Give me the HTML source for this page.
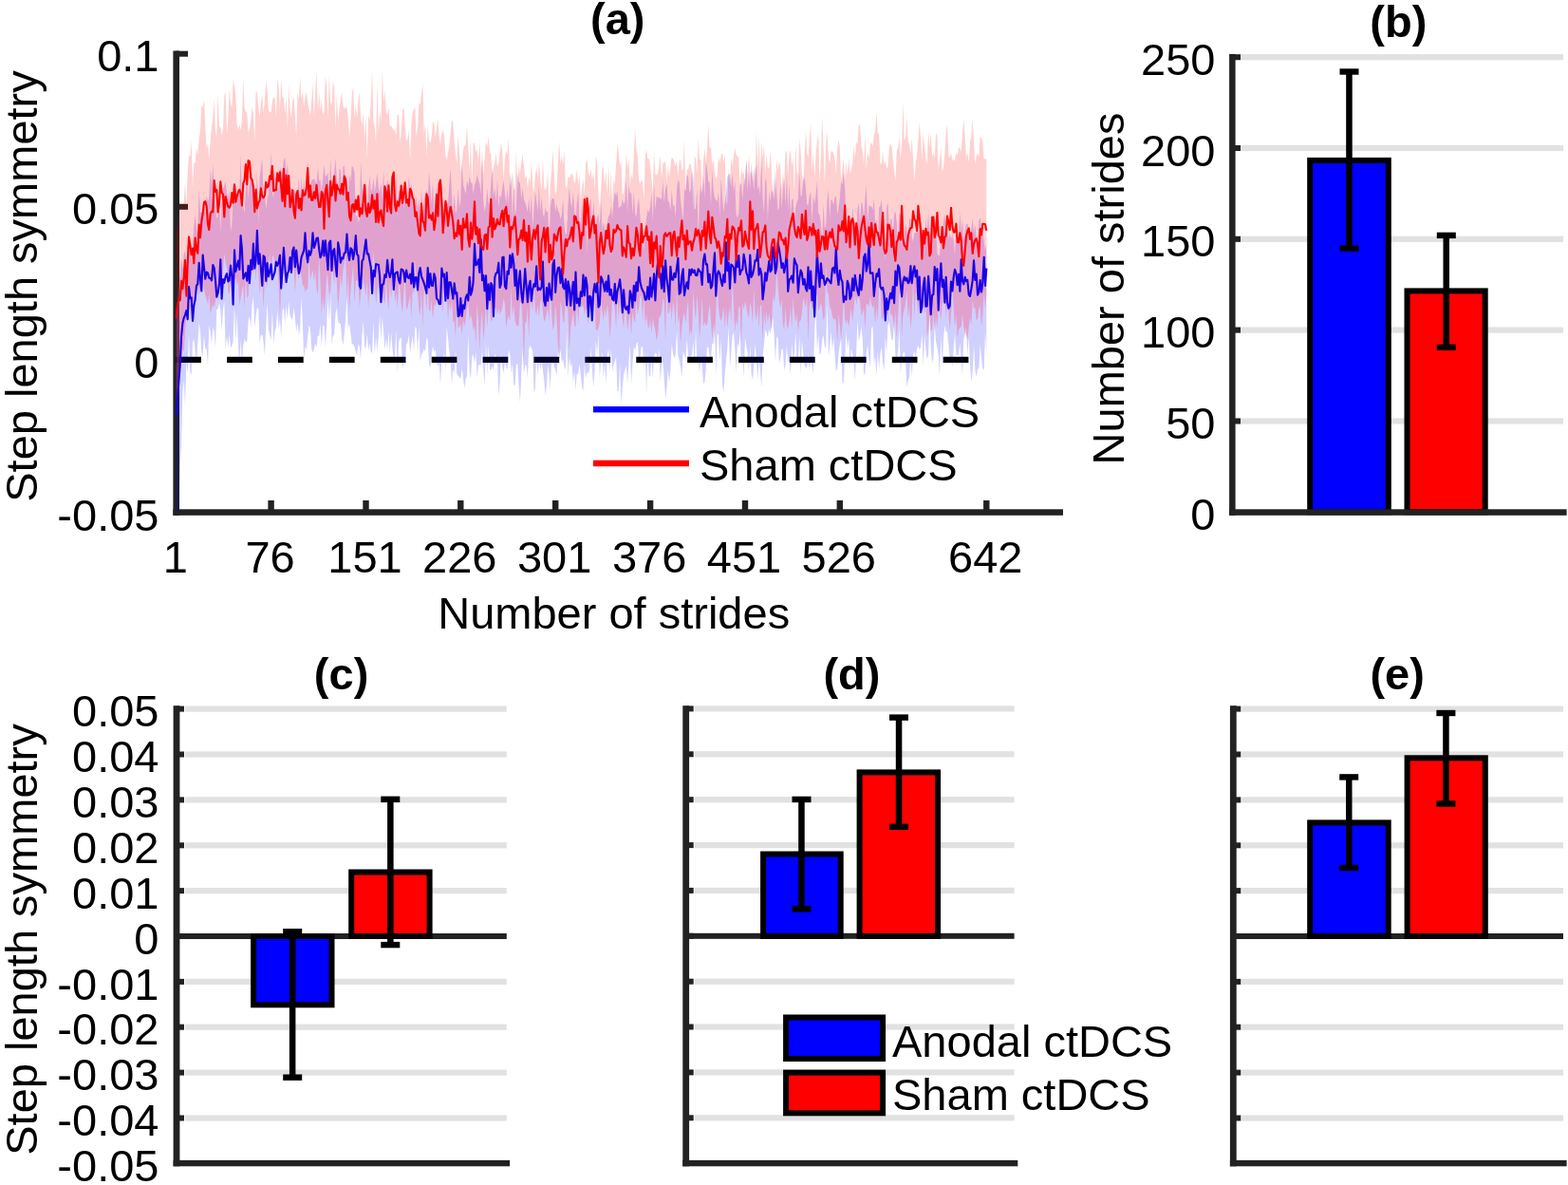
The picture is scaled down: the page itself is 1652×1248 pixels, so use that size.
<!DOCTYPE html>
<html><head><meta charset="utf-8"><title>Step length symmetry figure</title>
<style>
html,body{margin:0;padding:0;background:#fff;overflow:hidden;}
svg{display:block;}
text{font-family:"Liberation Sans",Arial,Helvetica,sans-serif;fill:#000;}
</style></head><body>
<svg width="1652" height="1248" viewBox="0 0 1652 1248">
<rect x="0" y="0" width="1652" height="1248" fill="#fff"/>
<defs><clipPath id="clipA"><rect x="184.6" y="56.6" width="932" height="482.9"/></clipPath></defs>
<rect x="182.4" y="53.5" width="6.6" height="489.3" fill="#222222"/>
<rect x="182.4" y="536.3" width="937.6" height="6.5" fill="#222222"/>
<rect x="185.0" y="53.7" width="13.0" height="6.0" fill="#222222"/>
<rect x="185.0" y="214.8" width="13.0" height="6.0" fill="#222222"/>
<rect x="185.0" y="375.9" width="13.0" height="6.0" fill="#222222"/>
<rect x="282.4" y="527.0" width="6.4" height="13.0" fill="#222222"/>
<rect x="382.3" y="527.0" width="6.4" height="13.0" fill="#222222"/>
<rect x="482.1" y="527.0" width="6.4" height="13.0" fill="#222222"/>
<rect x="582.0" y="527.0" width="6.4" height="13.0" fill="#222222"/>
<rect x="681.9" y="527.0" width="6.4" height="13.0" fill="#222222"/>
<rect x="781.8" y="527.0" width="6.4" height="13.0" fill="#222222"/>
<rect x="881.6" y="527.0" width="6.4" height="13.0" fill="#222222"/>
<rect x="1036.1" y="527.0" width="6.4" height="13.0" fill="#222222"/>
<line x1="185.2" y1="378.9" x2="1039.3" y2="378.9" stroke="#000" stroke-width="6.3" stroke-dasharray="26.7 27.2"/>
<polygon points="185.7,329.3 187.0,317.0 188.4,301.8 189.7,287.3 191.0,271.5 192.4,284.1 193.7,268.1 195.0,264.0 196.4,279.3 197.7,258.3 199.0,260.8 200.3,256.6 201.7,274.0 203.0,259.0 204.3,238.8 205.7,226.6 207.0,241.3 208.3,247.2 209.7,199.6 211.0,223.6 212.3,223.6 213.7,225.1 215.0,207.5 216.3,229.0 217.7,206.4 219.0,211.6 220.3,208.5 221.7,178.1 223.0,196.5 224.3,173.4 225.7,200.6 227.0,219.7 228.3,230.1 229.6,228.0 231.0,213.1 232.3,244.0 233.6,216.9 235.0,198.7 236.3,196.1 237.6,191.1 239.0,202.7 240.3,210.2 241.6,200.5 243.0,243.7 244.3,236.8 245.6,207.0 247.0,203.3 248.3,193.9 249.6,213.3 251.0,198.3 252.3,206.6 253.6,163.1 254.9,209.7 256.3,216.5 257.6,224.7 258.9,200.8 260.3,179.6 261.6,210.4 262.9,193.4 264.3,181.0 265.6,182.2 266.9,210.7 268.3,225.4 269.6,215.2 270.9,180.0 272.3,236.7 273.6,187.1 274.9,176.8 276.3,167.4 277.6,211.7 278.9,205.4 280.3,220.0 281.6,210.0 282.9,204.7 284.2,189.7 285.6,160.6 286.9,202.4 288.2,209.1 289.6,184.7 290.9,187.4 292.2,197.4 293.6,198.4 294.9,175.8 296.2,179.7 297.6,182.2 298.9,168.7 300.2,166.0 301.6,182.7 302.9,173.1 304.2,188.3 305.6,197.9 306.9,197.6 308.2,201.3 309.5,199.9 310.9,200.9 312.2,204.8 313.5,207.6 314.9,187.0 316.2,211.8 317.5,185.5 318.9,209.0 320.2,187.7 321.5,201.9 322.9,184.7 324.2,170.2 325.5,197.9 326.9,196.5 328.2,190.0 329.5,189.2 330.9,188.1 332.2,190.7 333.5,194.1 334.9,176.7 336.2,190.8 337.5,189.1 338.8,201.9 340.2,187.0 341.5,173.8 342.8,185.6 344.2,185.3 345.5,181.2 346.8,202.0 348.2,167.2 349.5,202.5 350.8,186.6 352.2,182.1 353.5,166.6 354.8,188.2 356.2,203.8 357.5,177.5 358.8,179.6 360.2,208.9 361.5,175.8 362.8,174.6 364.1,194.0 365.5,189.0 366.8,210.7 368.1,183.6 369.5,191.5 370.8,175.1 372.1,176.1 373.5,181.6 374.8,229.0 376.1,225.9 377.5,233.7 378.8,231.5 380.1,170.4 381.5,197.6 382.8,215.1 384.1,215.7 385.5,190.2 386.8,227.8 388.1,199.9 389.5,184.5 390.8,200.9 392.1,199.8 393.4,187.1 394.8,202.9 396.1,192.9 397.4,182.0 398.8,197.6 400.1,203.5 401.4,192.2 402.8,209.2 404.1,177.7 405.4,221.3 406.8,202.3 408.1,187.8 409.4,198.8 410.8,209.2 412.1,202.9 413.4,186.0 414.8,198.6 416.1,219.9 417.4,182.7 418.7,230.9 420.1,201.1 421.4,201.6 422.7,198.3 424.1,207.9 425.4,219.9 426.7,195.7 428.1,194.1 429.4,217.4 430.7,185.8 432.1,200.7 433.4,192.8 434.7,207.8 436.1,209.3 437.4,225.3 438.7,205.8 440.1,222.1 441.4,209.4 442.7,232.2 444.0,198.8 445.4,224.9 446.7,209.8 448.0,206.1 449.4,199.2 450.7,211.0 452.0,181.1 453.4,197.4 454.7,214.2 456.0,191.2 457.4,225.8 458.7,211.1 460.0,195.9 461.4,212.8 462.7,211.1 464.0,191.1 465.4,194.2 466.7,215.6 468.0,228.1 469.4,214.4 470.7,213.8 472.0,214.3 473.3,194.0 474.7,177.2 476.0,205.2 477.3,226.2 478.7,203.6 480.0,225.0 481.3,220.5 482.7,198.4 484.0,218.4 485.3,212.1 486.7,170.9 488.0,193.9 489.3,199.4 490.7,204.2 492.0,189.9 493.3,196.3 494.7,185.4 496.0,193.1 497.3,192.0 498.6,204.0 500.0,194.5 501.3,191.7 502.6,184.0 504.0,189.9 505.3,193.4 506.6,205.1 508.0,168.4 509.3,211.9 510.6,222.9 512.0,215.6 513.3,197.9 514.6,212.8 516.0,215.1 517.3,192.8 518.6,176.9 520.0,207.2 521.3,197.8 522.6,212.8 524.0,188.7 525.3,218.8 526.6,205.8 527.9,208.1 529.3,197.4 530.6,189.9 531.9,204.4 533.3,213.4 534.6,198.6 535.9,216.6 537.3,182.6 538.6,194.3 539.9,233.4 541.3,191.2 542.6,226.3 543.9,220.6 545.3,181.2 546.6,191.3 547.9,193.3 549.3,210.1 550.6,198.2 551.9,210.3 553.2,212.9 554.6,217.4 555.9,223.5 557.2,208.0 558.6,226.7 559.9,204.7 561.2,240.6 562.6,220.1 563.9,202.1 565.2,211.4 566.6,223.0 567.9,195.4 569.2,224.6 570.6,207.1 571.9,224.4 573.2,229.4 574.6,218.3 575.9,223.9 577.2,222.2 578.6,258.9 579.9,218.5 581.2,210.0 582.5,209.0 583.9,209.8 585.2,223.5 586.5,215.1 587.9,222.6 589.2,223.4 590.5,231.0 591.9,225.7 593.2,209.7 594.5,237.8 595.9,247.8 597.2,244.7 598.5,216.2 599.9,197.5 601.2,213.1 602.5,219.3 603.9,201.5 605.2,223.7 606.5,237.1 607.8,214.0 609.2,201.6 610.5,233.5 611.8,235.2 613.2,215.1 614.5,233.9 615.8,238.1 617.2,210.8 618.5,267.8 619.8,218.0 621.2,216.3 622.5,208.6 623.8,236.2 625.2,211.8 626.5,227.3 627.8,236.7 629.2,230.0 630.5,225.4 631.8,239.6 633.2,210.7 634.5,242.4 635.8,233.9 637.1,242.6 638.5,242.1 639.8,235.0 641.1,227.8 642.5,225.8 643.8,216.5 645.1,229.9 646.5,211.7 647.8,202.1 649.1,206.4 650.5,201.2 651.8,219.3 653.1,217.8 654.5,217.3 655.8,209.7 657.1,214.9 658.5,212.7 659.8,189.2 661.1,224.4 662.4,195.5 663.8,204.1 665.1,202.6 666.4,226.1 667.8,202.4 669.1,225.0 670.4,229.1 671.8,215.2 673.1,207.9 674.4,228.5 675.8,247.1 677.1,256.0 678.4,262.9 679.8,241.4 681.1,229.4 682.4,221.0 683.8,224.0 685.1,217.4 686.4,203.0 687.8,233.4 689.1,194.4 690.4,221.9 691.7,206.5 693.1,208.2 694.4,207.7 695.7,209.6 697.1,209.2 698.4,190.8 699.7,213.4 701.1,200.0 702.4,192.5 703.7,211.6 705.1,213.1 706.4,222.3 707.7,199.4 709.1,217.4 710.4,214.9 711.7,229.1 713.1,199.0 714.4,189.7 715.7,191.4 717.0,210.6 718.4,221.9 719.7,233.5 721.0,199.2 722.4,201.6 723.7,183.9 725.0,185.3 726.4,203.2 727.7,199.7 729.0,180.2 730.4,186.3 731.7,219.5 733.0,220.3 734.4,197.7 735.7,251.4 737.0,207.3 738.4,195.5 739.7,203.6 741.0,185.0 742.4,209.2 743.7,171.1 745.0,178.1 746.3,191.6 747.7,192.6 749.0,217.0 750.3,179.6 751.7,200.0 753.0,209.1 754.3,210.4 755.7,212.3 757.0,202.7 758.3,228.1 759.7,188.3 761.0,206.1 762.3,223.7 763.7,213.1 765.0,203.1 766.3,186.3 767.7,183.9 769.0,182.5 770.3,198.0 771.6,182.3 773.0,202.4 774.3,190.5 775.6,226.0 777.0,229.4 778.3,224.5 779.6,194.1 781.0,193.4 782.3,210.4 783.6,192.6 785.0,186.9 786.3,168.3 787.6,202.4 789.0,181.5 790.3,199.8 791.6,171.4 793.0,185.8 794.3,200.6 795.6,180.2 797.0,173.4 798.3,200.6 799.6,195.4 800.9,206.0 802.3,165.5 803.6,209.5 804.9,223.4 806.3,186.3 807.6,193.0 808.9,232.9 810.3,201.7 811.6,212.8 812.9,200.3 814.3,202.8 815.6,210.9 816.9,178.7 818.3,203.7 819.6,221.5 820.9,219.0 822.3,192.7 823.6,219.5 824.9,202.3 826.2,187.6 827.6,216.9 828.9,183.1 830.2,222.1 831.6,193.9 832.9,228.8 834.2,210.0 835.6,209.6 836.9,235.7 838.2,218.3 839.6,212.9 840.9,209.4 842.2,180.7 843.6,207.6 844.9,205.0 846.2,190.0 847.6,186.2 848.9,197.4 850.2,215.8 851.5,215.8 852.9,205.7 854.2,201.9 855.5,234.6 856.9,205.3 858.2,214.9 859.5,206.2 860.9,191.1 862.2,224.8 863.5,226.2 864.9,235.0 866.2,256.3 867.5,214.5 868.9,240.0 870.2,238.2 871.5,211.1 872.9,200.0 874.2,231.2 875.5,210.1 876.9,211.2 878.2,216.3 879.5,207.7 880.8,206.6 882.2,225.7 883.5,219.6 884.8,209.3 886.2,191.3 887.5,194.8 888.8,182.2 890.2,199.6 891.5,235.2 892.8,245.9 894.2,236.9 895.5,226.9 896.8,251.5 898.2,217.8 899.5,230.9 900.8,247.2 902.2,241.7 903.5,220.2 904.8,212.9 906.1,236.7 907.5,212.5 908.8,215.3 910.1,230.5 911.5,207.8 912.8,195.7 914.1,235.4 915.5,216.1 916.8,217.5 918.1,216.8 919.5,221.3 920.8,210.0 922.1,234.4 923.5,231.3 924.8,256.3 926.1,218.2 927.5,217.6 928.8,209.9 930.1,229.3 931.5,260.4 932.8,274.2 934.1,218.4 935.4,213.0 936.8,239.4 938.1,231.1 939.4,230.4 940.8,245.1 942.1,225.9 943.4,221.9 944.8,235.8 946.1,255.6 947.4,223.7 948.8,226.1 950.1,238.1 951.4,256.0 952.8,250.1 954.1,235.6 955.4,244.1 956.8,251.4 958.1,230.7 959.4,230.3 960.7,249.9 962.1,254.6 963.4,244.4 964.7,246.3 966.1,234.2 967.4,245.1 968.7,235.8 970.1,240.7 971.4,252.7 972.7,242.3 974.1,260.3 975.4,228.8 976.7,243.9 978.1,224.1 979.4,252.2 980.7,239.4 982.1,228.4 983.4,245.3 984.7,228.5 986.1,239.2 987.4,266.6 988.7,269.6 990.0,268.9 991.4,252.1 992.7,252.9 994.0,233.2 995.4,225.9 996.7,244.8 998.0,238.8 999.4,251.6 1000.7,245.2 1002.0,252.3 1003.4,247.5 1004.7,253.4 1006.0,269.0 1007.4,237.7 1008.7,250.0 1010.0,252.5 1011.4,223.8 1012.7,244.6 1014.0,230.4 1015.3,255.0 1016.7,243.1 1018.0,235.9 1019.3,235.5 1020.7,242.4 1022.0,248.9 1023.3,242.2 1024.7,230.1 1026.0,245.8 1027.3,236.7 1028.7,251.0 1030.0,254.3 1031.3,233.3 1032.7,228.8 1034.0,242.5 1035.3,243.5 1036.7,253.7 1038.0,264.7 1039.3,255.6 1039.3,374.4 1038.0,350.0 1036.7,389.8 1035.3,388.2 1034.0,377.3 1032.7,362.4 1031.3,388.0 1030.0,388.7 1028.7,396.9 1027.3,389.9 1026.0,363.4 1024.7,392.6 1023.3,402.3 1022.0,383.3 1020.7,354.8 1019.3,374.9 1018.0,345.1 1016.7,350.5 1015.3,358.1 1014.0,395.0 1012.7,378.6 1011.4,361.1 1010.0,373.9 1008.7,373.9 1007.4,373.5 1006.0,352.1 1004.7,367.3 1003.4,386.2 1002.0,380.1 1000.7,377.5 999.4,364.1 998.0,349.3 996.7,349.8 995.4,342.5 994.0,357.5 992.7,387.6 991.4,353.4 990.0,396.4 988.7,373.9 987.4,366.1 986.1,359.4 984.7,340.8 983.4,377.4 982.1,381.8 980.7,366.5 979.4,330.9 978.1,374.3 976.7,378.4 975.4,367.4 974.1,352.0 972.7,386.6 971.4,350.5 970.1,365.4 968.7,368.3 967.4,363.4 966.1,367.5 964.7,377.9 963.4,370.3 962.1,372.9 960.7,396.4 959.4,376.4 958.1,396.7 956.8,400.4 955.4,408.0 954.1,381.7 952.8,369.9 951.4,372.8 950.1,378.5 948.8,393.1 947.4,345.5 946.1,370.7 944.8,378.1 943.4,374.9 942.1,339.3 940.8,357.8 939.4,358.2 938.1,349.1 936.8,338.3 935.4,343.3 934.1,373.2 932.8,355.0 931.5,390.1 930.1,382.4 928.8,365.9 927.5,371.9 926.1,388.7 924.8,368.7 923.5,396.0 922.1,375.0 920.8,384.4 919.5,343.6 918.1,345.7 916.8,387.4 915.5,377.4 914.1,362.6 912.8,372.3 911.5,392.3 910.1,395.5 908.8,358.1 907.5,344.0 906.1,353.1 904.8,360.0 903.5,336.9 902.2,370.9 900.8,401.1 899.5,381.7 898.2,373.2 896.8,366.8 895.5,388.5 894.2,356.3 892.8,367.7 891.5,348.8 890.2,377.4 888.8,402.8 887.5,403.7 886.2,356.4 884.8,363.6 883.5,372.7 882.2,388.3 880.8,391.3 879.5,372.8 878.2,356.0 876.9,368.9 875.5,349.2 874.2,365.6 872.9,375.1 871.5,320.0 870.2,366.9 868.9,365.0 867.5,353.1 866.2,357.9 864.9,371.7 863.5,373.9 862.2,352.3 860.9,368.2 859.5,326.3 858.2,348.2 856.9,394.4 855.5,384.6 854.2,376.1 852.9,390.1 851.5,372.9 850.2,386.3 848.9,387.4 847.6,384.0 846.2,372.4 844.9,358.2 843.6,394.6 842.2,352.7 840.9,382.0 839.6,381.4 838.2,350.6 836.9,371.4 835.6,378.2 834.2,362.7 832.9,394.7 831.6,381.3 830.2,380.5 828.9,364.1 827.6,383.7 826.2,390.6 824.9,368.0 823.6,367.4 822.3,377.8 820.9,382.6 819.6,356.0 818.3,355.1 816.9,381.1 815.6,352.6 814.3,334.1 812.9,343.5 811.6,351.9 810.3,346.5 808.9,355.6 807.6,350.1 806.3,347.4 804.9,363.5 803.6,374.7 802.3,408.1 800.9,390.9 799.6,377.0 798.3,399.0 797.0,379.8 795.6,362.3 794.3,383.9 793.0,400.4 791.6,393.5 790.3,363.0 789.0,392.2 787.6,370.7 786.3,364.6 785.0,356.3 783.6,397.7 782.3,371.5 781.0,383.0 779.6,349.7 778.3,366.2 777.0,361.3 775.6,392.4 774.3,367.3 773.0,349.9 771.6,354.0 770.3,372.5 769.0,387.0 767.7,344.4 766.3,367.0 765.0,380.9 763.7,392.9 762.3,413.2 761.0,405.7 759.7,357.3 758.3,380.6 757.0,353.2 755.7,351.2 754.3,397.0 753.0,340.3 751.7,362.6 750.3,361.4 749.0,379.1 747.7,374.8 746.3,365.9 745.0,365.5 743.7,389.0 742.4,402.4 741.0,404.2 739.7,385.9 738.4,374.3 737.0,393.4 735.7,375.9 734.4,382.0 733.0,348.5 731.7,386.4 730.4,359.9 729.0,374.3 727.7,374.5 726.4,380.8 725.0,373.6 723.7,357.2 722.4,377.9 721.0,374.0 719.7,369.7 718.4,397.4 717.0,386.7 715.7,379.7 714.4,374.5 713.1,348.2 711.7,374.3 710.4,377.8 709.1,372.8 707.7,362.1 706.4,390.1 705.1,402.4 703.7,389.2 702.4,409.8 701.1,420.9 699.7,398.0 698.4,380.4 697.1,383.5 695.7,402.9 694.4,366.3 693.1,381.0 691.7,372.7 690.4,371.7 689.1,375.3 687.8,398.7 686.4,374.6 685.1,396.7 683.8,395.7 682.4,369.8 681.1,415.5 679.8,369.3 678.4,387.4 677.1,366.2 675.8,364.7 674.4,375.9 673.1,377.1 671.8,359.7 670.4,362.5 669.1,369.1 667.8,365.0 666.4,384.0 665.1,404.2 663.8,363.2 662.4,381.6 661.1,404.1 659.8,384.9 658.5,389.4 657.1,394.2 655.8,407.8 654.5,426.0 653.1,382.1 651.8,411.8 650.5,412.1 649.1,375.8 647.8,380.5 646.5,384.3 645.1,391.6 643.8,367.1 642.5,391.8 641.1,367.3 639.8,373.8 638.5,403.7 637.1,381.7 635.8,398.6 634.5,371.1 633.2,379.2 631.8,398.8 630.5,352.8 629.2,373.5 627.8,358.7 626.5,391.2 625.2,408.0 623.8,389.8 622.5,365.4 621.2,388.5 619.8,393.2 618.5,391.9 617.2,397.9 615.8,383.5 614.5,411.7 613.2,408.1 611.8,394.6 610.5,383.5 609.2,393.9 607.8,393.4 606.5,410.8 605.2,391.5 603.9,402.8 602.5,382.5 601.2,386.2 599.9,376.7 598.5,397.9 597.2,349.1 595.9,389.3 594.5,386.2 593.2,378.0 591.9,382.1 590.5,368.2 589.2,378.5 587.9,370.1 586.5,395.4 585.2,390.1 583.9,386.5 582.5,380.3 581.2,377.2 579.9,410.0 578.6,394.7 577.2,384.6 575.9,405.2 574.6,417.0 573.2,399.5 571.9,390.2 570.6,380.9 569.2,389.7 567.9,378.9 566.6,396.7 565.2,373.1 563.9,408.2 562.6,414.2 561.2,370.2 559.9,366.7 558.6,363.9 557.2,368.3 555.9,398.6 554.6,384.6 553.2,384.8 551.9,393.7 550.6,367.1 549.3,394.9 547.9,423.9 546.6,406.0 545.3,383.3 543.9,383.8 542.6,406.2 541.3,405.2 539.9,382.7 538.6,393.6 537.3,374.0 535.9,368.2 534.6,389.8 533.3,386.1 531.9,380.4 530.6,393.0 529.3,387.6 527.9,371.9 526.6,403.6 525.3,416.9 524.0,379.1 522.6,376.6 521.3,372.5 520.0,389.8 518.6,385.8 517.3,390.3 516.0,388.8 514.6,363.5 513.3,395.6 512.0,361.1 510.6,406.1 509.3,390.5 508.0,368.3 506.6,385.8 505.3,384.3 504.0,383.8 502.6,397.9 501.3,370.7 500.0,382.3 498.6,372.8 497.3,376.4 496.0,399.0 494.7,391.4 493.3,352.7 492.0,396.2 490.7,399.2 489.3,409.1 488.0,398.2 486.7,387.3 485.3,399.5 484.0,397.1 482.7,395.9 481.3,393.7 480.0,369.2 478.7,393.0 477.3,389.2 476.0,406.0 474.7,377.5 473.3,370.1 472.0,355.6 470.7,344.6 469.4,391.4 468.0,371.6 466.7,380.5 465.4,379.8 464.0,404.7 462.7,383.0 461.4,386.0 460.0,380.3 458.7,367.9 457.4,371.0 456.0,364.8 454.7,374.3 453.4,387.7 452.0,382.7 450.7,358.3 449.4,356.1 448.0,370.3 446.7,367.4 445.4,371.7 444.0,373.1 442.7,381.3 441.4,344.4 440.1,372.3 438.7,345.9 437.4,343.9 436.1,370.0 434.7,354.0 433.4,362.1 432.1,372.6 430.7,352.2 429.4,361.5 428.1,361.9 426.7,384.5 425.4,379.3 424.1,389.2 422.7,355.5 421.4,356.3 420.1,360.2 418.7,393.7 417.4,347.0 416.1,374.6 414.8,377.3 413.4,367.5 412.1,349.5 410.8,373.1 409.4,348.2 408.1,369.2 406.8,356.6 405.4,368.3 404.1,349.5 402.8,334.2 401.4,357.9 400.1,331.2 398.8,354.2 397.4,371.0 396.1,354.7 394.8,374.0 393.4,339.0 392.1,371.0 390.8,371.5 389.5,361.3 388.1,369.3 386.8,351.8 385.5,366.7 384.1,365.0 382.8,338.8 381.5,352.3 380.1,378.6 378.8,365.6 377.5,362.2 376.1,374.3 374.8,370.4 373.5,365.4 372.1,362.0 370.8,363.0 369.5,351.4 368.1,340.6 366.8,347.0 365.5,312.7 364.1,337.2 362.8,351.4 361.5,363.4 360.2,357.7 358.8,341.0 357.5,340.4 356.2,338.9 354.8,324.6 353.5,330.4 352.2,352.3 350.8,354.0 349.5,362.5 348.2,310.4 346.8,338.6 345.5,313.5 344.2,343.3 342.8,365.3 341.5,342.5 340.2,343.2 338.8,365.4 337.5,340.9 336.2,354.5 334.9,353.0 333.5,366.3 332.2,361.8 330.9,367.5 329.5,371.4 328.2,367.3 326.9,345.4 325.5,343.1 324.2,354.7 322.9,367.9 321.5,365.1 320.2,379.6 318.9,341.7 317.5,313.7 316.2,345.0 314.9,352.9 313.5,339.4 312.2,349.3 310.9,335.3 309.5,324.4 308.2,336.9 306.9,335.1 305.6,332.5 304.2,317.6 302.9,337.0 301.6,321.5 300.2,340.9 298.9,324.1 297.6,327.6 296.2,357.1 294.9,335.3 293.6,346.7 292.2,326.5 290.9,345.4 289.6,348.3 288.2,362.3 286.9,327.3 285.6,358.2 284.2,353.1 282.9,346.8 281.6,319.1 280.3,343.2 278.9,374.4 277.6,360.0 276.3,352.5 274.9,353.2 273.6,362.7 272.3,325.6 270.9,324.1 269.6,332.5 268.3,345.2 266.9,312.9 265.6,320.1 264.3,345.3 262.9,332.9 261.6,338.5 260.3,359.5 258.9,360.2 257.6,357.1 256.3,364.0 254.9,383.0 253.6,357.8 252.3,385.4 251.0,363.5 249.6,331.6 248.3,360.7 247.0,321.5 245.6,359.2 244.3,364.5 243.0,366.1 241.6,351.7 240.3,366.3 239.0,353.5 237.6,368.0 236.3,317.2 235.0,325.7 233.6,348.2 232.3,327.2 231.0,319.2 229.6,325.2 228.3,326.3 227.0,366.8 225.7,349.7 224.3,344.5 223.0,362.3 221.7,349.1 220.3,342.5 219.0,385.2 217.7,368.1 216.3,367.3 215.0,354.1 213.7,374.4 212.3,370.7 211.0,347.7 209.7,340.6 208.3,362.6 207.0,384.3 205.7,370.7 204.3,356.4 203.0,360.7 201.7,395.4 200.3,391.6 199.0,351.0 197.7,393.3 196.4,381.2 195.0,427.7 193.7,400.2 192.4,413.3 191.0,470.5 189.7,491.5 188.4,547.0 187.0,574.8 185.7,621.0" fill="#0000ff" fill-opacity="0.184" clip-path="url(#clipA)"/>
<polygon points="185.7,241.6 187.0,239.5 188.4,227.4 189.7,211.7 191.0,214.2 192.4,216.7 193.7,212.3 195.0,191.8 196.4,216.7 197.7,181.7 199.0,164.0 200.3,165.1 201.7,148.4 203.0,198.1 204.3,171.4 205.7,171.5 207.0,155.1 208.3,163.0 209.7,145.7 211.0,137.5 212.3,111.5 213.7,112.6 215.0,104.7 216.3,133.0 217.7,157.1 219.0,150.6 220.3,167.3 221.7,147.8 223.0,133.3 224.3,123.2 225.7,104.5 227.0,138.9 228.3,144.3 229.6,98.6 231.0,132.8 232.3,134.6 233.6,142.8 235.0,135.4 236.3,101.0 237.6,96.9 239.0,141.1 240.3,127.6 241.6,93.4 243.0,108.8 244.3,113.4 245.6,84.3 247.0,89.7 248.3,99.6 249.6,131.0 251.0,136.7 252.3,131.0 253.6,137.2 254.9,127.0 256.3,82.9 257.6,113.6 258.9,118.0 260.3,118.5 261.6,139.9 262.9,135.8 264.3,125.9 265.6,112.2 266.9,119.5 268.3,148.9 269.6,95.5 270.9,97.4 272.3,113.1 273.6,123.1 274.9,108.3 276.3,99.5 277.6,119.5 278.9,105.5 280.3,85.9 281.6,94.6 282.9,116.2 284.2,118.0 285.6,118.2 286.9,106.4 288.2,102.1 289.6,103.4 290.9,123.3 292.2,84.0 293.6,90.8 294.9,117.1 296.2,83.0 297.6,102.7 298.9,102.2 300.2,120.1 301.6,102.2 302.9,136.1 304.2,88.7 305.6,114.8 306.9,124.1 308.2,105.1 309.5,103.3 310.9,120.0 312.2,145.7 313.5,97.4 314.9,104.6 316.2,80.9 317.5,104.1 318.9,96.4 320.2,112.5 321.5,102.0 322.9,97.5 324.2,107.3 325.5,113.9 326.9,121.9 328.2,106.0 329.5,87.9 330.9,122.7 332.2,98.0 333.5,74.6 334.9,118.1 336.2,96.1 337.5,116.4 338.8,104.2 340.2,120.9 341.5,116.9 342.8,80.2 344.2,90.8 345.5,125.1 346.8,78.8 348.2,107.5 349.5,110.9 350.8,86.3 352.2,91.3 353.5,135.7 354.8,97.4 356.2,127.7 357.5,114.6 358.8,105.0 360.2,97.3 361.5,111.3 362.8,115.3 364.1,112.1 365.5,114.0 366.8,124.1 368.1,144.9 369.5,126.3 370.8,98.6 372.1,91.6 373.5,124.2 374.8,111.1 376.1,124.4 377.5,107.6 378.8,97.1 380.1,124.7 381.5,132.2 382.8,118.5 384.1,146.4 385.5,121.7 386.8,168.2 388.1,120.9 389.5,126.8 390.8,107.0 392.1,72.5 393.4,126.3 394.8,134.2 396.1,150.1 397.4,87.5 398.8,139.1 400.1,116.3 401.4,128.6 402.8,73.1 404.1,107.7 405.4,94.8 406.8,117.9 408.1,121.3 409.4,113.6 410.8,132.9 412.1,132.3 413.4,135.3 414.8,136.4 416.1,137.7 417.4,142.4 418.7,120.2 420.1,121.5 421.4,149.9 422.7,139.4 424.1,116.2 425.4,112.9 426.7,132.9 428.1,148.5 429.4,146.0 430.7,137.0 432.1,168.7 433.4,131.9 434.7,118.8 436.1,114.7 437.4,113.7 438.7,143.4 440.1,133.9 441.4,107.8 442.7,110.2 444.0,99.1 445.4,87.3 446.7,141.0 448.0,129.8 449.4,164.4 450.7,131.9 452.0,147.7 453.4,150.8 454.7,144.7 456.0,127.8 457.4,129.8 458.7,145.1 460.0,134.1 461.4,124.9 462.7,143.8 464.0,152.1 465.4,140.3 466.7,137.3 468.0,142.9 469.4,163.7 470.7,168.2 472.0,160.9 473.3,154.4 474.7,138.7 476.0,126.2 477.3,128.7 478.7,149.6 480.0,161.6 481.3,172.2 482.7,141.4 484.0,159.1 485.3,181.6 486.7,172.4 488.0,158.0 489.3,153.8 490.7,152.4 492.0,132.0 493.3,153.7 494.7,179.4 496.0,144.7 497.3,194.0 498.6,150.4 500.0,151.1 501.3,160.0 502.6,157.3 504.0,171.1 505.3,148.7 506.6,178.9 508.0,157.8 509.3,184.6 510.6,165.7 512.0,148.2 513.3,155.2 514.6,143.4 516.0,160.2 517.3,162.2 518.6,183.5 520.0,176.7 521.3,171.2 522.6,161.4 524.0,175.4 525.3,171.8 526.6,161.8 527.9,150.2 529.3,159.8 530.6,191.1 531.9,167.0 533.3,158.1 534.6,162.8 535.9,145.1 537.3,196.4 538.6,188.9 539.9,181.1 541.3,198.6 542.6,199.7 543.9,157.3 545.3,195.4 546.6,174.5 547.9,182.6 549.3,171.5 550.6,161.7 551.9,173.8 553.2,188.2 554.6,184.1 555.9,198.3 557.2,186.7 558.6,192.0 559.9,169.7 561.2,195.8 562.6,202.2 563.9,185.5 565.2,174.9 566.6,187.8 567.9,169.7 569.2,187.7 570.6,199.4 571.9,166.8 573.2,196.9 574.6,200.5 575.9,196.5 577.2,179.9 578.6,220.9 579.9,194.2 581.2,179.2 582.5,157.3 583.9,185.0 585.2,206.0 586.5,198.8 587.9,170.2 589.2,148.9 590.5,173.5 591.9,163.4 593.2,173.7 594.5,157.9 595.9,195.6 597.2,199.3 598.5,185.8 599.9,187.6 601.2,184.2 602.5,182.2 603.9,185.8 605.2,193.9 606.5,188.6 607.8,177.9 609.2,195.1 610.5,183.7 611.8,210.7 613.2,197.1 614.5,188.3 615.8,205.2 617.2,172.0 618.5,166.7 619.8,180.5 621.2,186.1 622.5,177.4 623.8,188.9 625.2,181.3 626.5,199.0 627.8,164.9 629.2,170.6 630.5,207.3 631.8,219.0 633.2,199.1 634.5,175.8 635.8,176.9 637.1,194.8 638.5,180.2 639.8,205.2 641.1,172.8 642.5,209.0 643.8,178.7 645.1,216.8 646.5,188.8 647.8,194.0 649.1,172.4 650.5,151.5 651.8,161.4 653.1,174.8 654.5,169.4 655.8,205.5 657.1,203.5 658.5,189.8 659.8,160.3 661.1,177.8 662.4,165.6 663.8,195.1 665.1,182.9 666.4,189.2 667.8,164.4 669.1,134.9 670.4,158.4 671.8,163.7 673.1,189.9 674.4,193.7 675.8,188.9 677.1,191.9 678.4,211.6 679.8,164.0 681.1,157.8 682.4,167.0 683.8,167.3 685.1,174.6 686.4,187.9 687.8,201.9 689.1,159.4 690.4,182.8 691.7,184.2 693.1,182.6 694.4,174.8 695.7,162.9 697.1,187.8 698.4,170.8 699.7,171.7 701.1,169.9 702.4,192.0 703.7,173.5 705.1,186.2 706.4,175.1 707.7,165.8 709.1,166.9 710.4,170.3 711.7,175.0 713.1,169.8 714.4,185.9 715.7,169.5 717.0,168.3 718.4,179.4 719.7,177.8 721.0,147.3 722.4,201.8 723.7,177.9 725.0,178.7 726.4,172.6 727.7,172.8 729.0,181.3 730.4,222.6 731.7,164.9 733.0,166.5 734.4,181.8 735.7,145.8 737.0,168.0 738.4,168.2 739.7,204.2 741.0,167.9 742.4,155.7 743.7,171.1 745.0,157.9 746.3,131.6 747.7,155.4 749.0,155.0 750.3,173.6 751.7,169.3 753.0,180.8 754.3,188.8 755.7,185.0 757.0,163.9 758.3,171.9 759.7,163.3 761.0,161.0 762.3,171.1 763.7,162.3 765.0,212.9 766.3,216.3 767.7,177.0 769.0,194.1 770.3,165.2 771.6,175.1 773.0,164.4 774.3,156.0 775.6,162.4 777.0,164.6 778.3,166.0 779.6,196.6 781.0,176.5 782.3,183.3 783.6,180.2 785.0,196.8 786.3,167.3 787.6,184.2 789.0,162.2 790.3,181.4 791.6,181.0 793.0,191.2 794.3,175.5 795.6,186.5 797.0,137.2 798.3,175.8 799.6,142.4 800.9,190.0 802.3,148.2 803.6,167.0 804.9,152.1 806.3,183.1 807.6,162.3 808.9,176.5 810.3,177.2 811.6,158.6 812.9,179.9 814.3,203.5 815.6,186.3 816.9,206.9 818.3,167.4 819.6,179.4 820.9,169.3 822.3,178.0 823.6,199.7 824.9,180.7 826.2,191.9 827.6,158.7 828.9,159.8 830.2,184.9 831.6,162.2 832.9,158.8 834.2,174.7 835.6,165.6 836.9,203.8 838.2,151.2 839.6,181.1 840.9,184.9 842.2,146.1 843.6,159.5 844.9,184.0 846.2,192.9 847.6,167.6 848.9,136.9 850.2,160.7 851.5,165.9 852.9,146.2 854.2,127.8 855.5,181.2 856.9,160.6 858.2,186.8 859.5,164.0 860.9,148.3 862.2,140.8 863.5,190.9 864.9,167.3 866.2,121.8 867.5,155.0 868.9,193.4 870.2,152.7 871.5,139.3 872.9,166.2 874.2,172.6 875.5,159.4 876.9,159.5 878.2,161.5 879.5,166.7 880.8,183.5 882.2,155.8 883.5,146.8 884.8,155.1 886.2,190.3 887.5,177.2 888.8,166.0 890.2,190.5 891.5,169.8 892.8,184.1 894.2,165.8 895.5,183.2 896.8,178.8 898.2,172.3 899.5,153.6 900.8,166.5 902.2,149.6 903.5,151.9 904.8,131.0 906.1,132.5 907.5,153.4 908.8,160.2 910.1,173.1 911.5,141.5 912.8,178.6 914.1,159.9 915.5,166.5 916.8,152.4 918.1,150.1 919.5,154.6 920.8,143.1 922.1,138.2 923.5,117.4 924.8,140.2 926.1,140.7 927.5,172.1 928.8,173.2 930.1,159.2 931.5,173.9 932.8,169.3 934.1,177.4 935.4,176.0 936.8,157.0 938.1,150.6 939.4,154.3 940.8,167.1 942.1,179.7 943.4,190.8 944.8,157.7 946.1,156.8 947.4,143.7 948.8,168.1 950.1,154.2 951.4,107.0 952.8,148.0 954.1,144.9 955.4,123.7 956.8,149.3 958.1,152.4 959.4,161.4 960.7,145.0 962.1,166.6 963.4,190.3 964.7,172.7 966.1,162.6 967.4,148.2 968.7,128.9 970.1,145.1 971.4,169.2 972.7,140.6 974.1,155.2 975.4,166.5 976.7,173.4 978.1,137.7 979.4,155.3 980.7,139.3 982.1,166.4 983.4,160.5 984.7,166.9 986.1,139.8 987.4,143.5 988.7,178.3 990.0,169.0 991.4,155.7 992.7,180.2 994.0,176.1 995.4,162.2 996.7,137.4 998.0,131.5 999.4,163.4 1000.7,166.1 1002.0,160.3 1003.4,168.7 1004.7,168.1 1006.0,169.5 1007.4,160.5 1008.7,164.3 1010.0,155.4 1011.4,155.7 1012.7,160.2 1014.0,141.3 1015.3,124.9 1016.7,145.4 1018.0,166.1 1019.3,160.3 1020.7,171.3 1022.0,150.3 1023.3,143.0 1024.7,124.5 1026.0,148.3 1027.3,173.6 1028.7,164.6 1030.0,161.2 1031.3,165.8 1032.7,144.0 1034.0,144.5 1035.3,149.6 1036.7,167.6 1038.0,167.4 1039.3,166.7 1039.3,309.1 1038.0,325.0 1036.7,306.2 1035.3,331.3 1034.0,343.8 1032.7,321.4 1031.3,325.6 1030.0,335.4 1028.7,337.4 1027.3,322.9 1026.0,325.0 1024.7,316.0 1023.3,342.8 1022.0,333.9 1020.7,344.5 1019.3,357.4 1018.0,353.5 1016.7,351.8 1015.3,343.2 1014.0,331.3 1012.7,344.0 1011.4,345.3 1010.0,347.2 1008.7,356.2 1007.4,331.5 1006.0,344.3 1004.7,325.8 1003.4,296.2 1002.0,332.3 1000.7,347.3 999.4,329.6 998.0,314.8 996.7,335.5 995.4,311.3 994.0,316.1 992.7,320.7 991.4,337.3 990.0,326.0 988.7,324.3 987.4,345.3 986.1,333.1 984.7,350.2 983.4,329.3 982.1,347.0 980.7,348.1 979.4,328.8 978.1,347.8 976.7,355.2 975.4,314.5 974.1,331.6 972.7,314.1 971.4,315.9 970.1,318.0 968.7,303.7 967.4,335.2 966.1,309.5 964.7,307.8 963.4,336.7 962.1,293.1 960.7,332.8 959.4,346.4 958.1,319.4 956.8,335.7 955.4,305.2 954.1,318.8 952.8,325.6 951.4,331.2 950.1,355.4 948.8,304.5 947.4,312.0 946.1,331.9 944.8,356.5 943.4,326.5 942.1,349.0 940.8,335.7 939.4,329.7 938.1,332.4 936.8,304.7 935.4,340.9 934.1,314.9 932.8,341.2 931.5,328.3 930.1,335.7 928.8,335.7 927.5,303.3 926.1,302.1 924.8,338.5 923.5,322.4 922.1,341.1 920.8,321.4 919.5,324.3 918.1,319.5 916.8,312.4 915.5,322.8 914.1,320.2 912.8,319.8 911.5,347.3 910.1,324.4 908.8,330.0 907.5,332.6 906.1,316.8 904.8,314.1 903.5,312.8 902.2,321.1 900.8,309.8 899.5,324.4 898.2,338.1 896.8,323.9 895.5,332.9 894.2,344.6 892.8,336.6 891.5,341.0 890.2,335.6 888.8,307.6 887.5,340.6 886.2,358.2 884.8,341.6 883.5,330.3 882.2,361.5 880.8,338.1 879.5,335.3 878.2,336.7 876.9,332.9 875.5,325.2 874.2,323.6 872.9,309.8 871.5,307.7 870.2,277.2 868.9,333.4 867.5,336.9 866.2,326.1 864.9,318.8 863.5,324.4 862.2,327.9 860.9,311.4 859.5,310.6 858.2,319.0 856.9,324.8 855.5,324.5 854.2,317.4 852.9,319.2 851.5,359.9 850.2,311.7 848.9,323.9 847.6,318.6 846.2,313.6 844.9,330.0 843.6,337.5 842.2,338.2 840.9,348.8 839.6,330.0 838.2,340.1 836.9,330.0 835.6,312.3 834.2,346.8 832.9,323.0 831.6,337.5 830.2,346.4 828.9,341.8 827.6,323.0 826.2,347.9 824.9,341.5 823.6,314.0 822.3,325.0 820.9,316.4 819.6,300.7 818.3,284.6 816.9,310.4 815.6,318.5 814.3,311.1 812.9,346.3 811.6,339.3 810.3,329.3 808.9,339.2 807.6,327.2 806.3,342.8 804.9,326.7 803.6,359.3 802.3,321.5 800.9,322.1 799.6,345.7 798.3,321.1 797.0,337.6 795.6,331.0 794.3,303.0 793.0,341.0 791.6,324.6 790.3,317.9 789.0,335.2 787.6,330.6 786.3,322.8 785.0,317.5 783.6,325.8 782.3,319.5 781.0,361.0 779.6,322.9 778.3,322.8 777.0,343.5 775.6,335.6 774.3,349.6 773.0,323.5 771.6,289.8 770.3,339.6 769.0,323.1 767.7,330.0 766.3,345.3 765.0,324.0 763.7,345.9 762.3,322.5 761.0,332.8 759.7,338.4 758.3,334.1 757.0,324.8 755.7,292.0 754.3,327.6 753.0,364.0 751.7,341.7 750.3,356.9 749.0,336.9 747.7,319.7 746.3,330.8 745.0,342.3 743.7,342.5 742.4,338.6 741.0,344.5 739.7,312.0 738.4,338.5 737.0,356.8 735.7,328.8 734.4,309.7 733.0,337.6 731.7,324.0 730.4,304.7 729.0,353.6 727.7,345.8 726.4,354.9 725.0,315.8 723.7,326.2 722.4,340.8 721.0,329.1 719.7,333.3 718.4,345.6 717.0,361.2 715.7,333.5 714.4,339.7 713.1,302.8 711.7,343.9 710.4,325.2 709.1,316.8 707.7,337.9 706.4,320.0 705.1,329.2 703.7,330.5 702.4,295.3 701.1,360.4 699.7,318.0 698.4,313.7 697.1,328.3 695.7,334.3 694.4,333.1 693.1,352.5 691.7,358.7 690.4,347.8 689.1,342.0 687.8,334.9 686.4,351.5 685.1,335.3 683.8,345.9 682.4,342.4 681.1,331.2 679.8,342.1 678.4,309.8 677.1,337.1 675.8,312.7 674.4,311.8 673.1,324.4 671.8,331.3 670.4,315.2 669.1,340.1 667.8,335.9 666.4,328.3 665.1,352.7 663.8,331.0 662.4,338.1 661.1,348.0 659.8,330.0 658.5,319.3 657.1,345.8 655.8,336.5 654.5,325.7 653.1,317.8 651.8,336.4 650.5,312.3 649.1,345.2 647.8,325.2 646.5,318.1 645.1,314.4 643.8,338.9 642.5,357.1 641.1,328.8 639.8,320.7 638.5,333.7 637.1,324.2 635.8,338.3 634.5,327.3 633.2,317.4 631.8,339.9 630.5,344.3 629.2,348.3 627.8,346.8 626.5,306.4 625.2,294.8 623.8,337.8 622.5,324.6 621.2,322.7 619.8,341.7 618.5,328.1 617.2,324.8 615.8,332.1 614.5,320.9 613.2,324.0 611.8,319.2 610.5,317.8 609.2,341.8 607.8,316.2 606.5,344.1 605.2,342.8 603.9,329.0 602.5,336.9 601.2,345.6 599.9,369.6 598.5,329.8 597.2,321.1 595.9,312.4 594.5,339.9 593.2,338.2 591.9,323.5 590.5,316.9 589.2,374.1 587.9,363.0 586.5,335.3 585.2,320.1 583.9,342.8 582.5,347.4 581.2,328.5 579.9,301.1 578.6,337.7 577.2,324.2 575.9,329.3 574.6,336.6 573.2,338.6 571.9,327.9 570.6,313.8 569.2,319.1 567.9,333.9 566.6,320.5 565.2,331.6 563.9,326.9 562.6,299.6 561.2,328.0 559.9,318.3 558.6,319.6 557.2,355.9 555.9,322.8 554.6,339.7 553.2,339.0 551.9,382.7 550.6,338.3 549.3,318.1 547.9,318.5 546.6,342.4 545.3,344.1 543.9,342.1 542.6,337.7 541.3,320.4 539.9,333.1 538.6,302.6 537.3,338.6 535.9,332.1 534.6,336.2 533.3,345.9 531.9,320.0 530.6,314.4 529.3,323.2 527.9,328.5 526.6,331.0 525.3,324.7 524.0,331.4 522.6,323.4 521.3,325.4 520.0,331.6 518.6,336.4 517.3,339.5 516.0,317.7 514.6,322.5 513.3,345.4 512.0,317.5 510.6,344.3 509.3,359.2 508.0,327.0 506.6,340.2 505.3,369.5 504.0,338.2 502.6,318.8 501.3,362.7 500.0,342.9 498.6,347.4 497.3,336.3 496.0,331.8 494.7,337.7 493.3,317.9 492.0,324.7 490.7,336.7 489.3,343.5 488.0,336.2 486.7,352.4 485.3,340.9 484.0,344.0 482.7,345.1 481.3,313.3 480.0,354.8 478.7,338.4 477.3,338.7 476.0,315.3 474.7,327.8 473.3,318.6 472.0,338.0 470.7,307.7 469.4,312.6 468.0,289.1 466.7,329.1 465.4,318.5 464.0,319.3 462.7,316.4 461.4,316.4 460.0,316.6 458.7,322.0 457.4,321.1 456.0,336.8 454.7,315.2 453.4,328.1 452.0,326.9 450.7,298.3 449.4,328.5 448.0,307.3 446.7,301.1 445.4,344.3 444.0,305.5 442.7,332.2 441.4,325.9 440.1,309.9 438.7,299.1 437.4,274.9 436.1,310.1 434.7,303.8 433.4,334.9 432.1,310.6 430.7,317.6 429.4,323.5 428.1,326.9 426.7,288.2 425.4,308.1 424.1,329.6 422.7,320.0 421.4,302.4 420.1,299.7 418.7,324.4 417.4,309.6 416.1,317.6 414.8,292.7 413.4,293.7 412.1,315.3 410.8,296.0 409.4,326.9 408.1,314.7 406.8,292.0 405.4,319.9 404.1,315.4 402.8,304.6 401.4,294.2 400.1,309.6 398.8,293.9 397.4,307.0 396.1,320.0 394.8,294.1 393.4,263.3 392.1,285.3 390.8,285.4 389.5,297.7 388.1,324.4 386.8,296.3 385.5,311.5 384.1,301.7 382.8,296.0 381.5,286.1 380.1,309.3 378.8,323.5 377.5,295.5 376.1,295.6 374.8,295.8 373.5,320.1 372.1,278.0 370.8,291.7 369.5,304.7 368.1,327.5 366.8,289.1 365.5,317.1 364.1,265.8 362.8,277.8 361.5,282.8 360.2,303.5 358.8,288.9 357.5,307.9 356.2,325.3 354.8,296.9 353.5,275.1 352.2,299.5 350.8,286.4 349.5,285.1 348.2,306.0 346.8,310.7 345.5,294.2 344.2,288.0 342.8,313.2 341.5,327.0 340.2,311.6 338.8,330.8 337.5,295.3 336.2,267.5 334.9,310.7 333.5,303.8 332.2,285.1 330.9,296.2 329.5,284.3 328.2,289.4 326.9,293.9 325.5,266.6 324.2,305.0 322.9,304.1 321.5,308.0 320.2,300.3 318.9,300.9 317.5,291.3 316.2,280.4 314.9,294.6 313.5,287.9 312.2,283.6 310.9,308.4 309.5,279.2 308.2,288.5 306.9,283.4 305.6,277.9 304.2,286.7 302.9,293.6 301.6,277.3 300.2,295.8 298.9,270.8 297.6,298.5 296.2,303.9 294.9,333.0 293.6,299.1 292.2,269.8 290.9,281.9 289.6,280.3 288.2,269.2 286.9,270.2 285.6,300.3 284.2,266.5 282.9,278.0 281.6,303.5 280.3,297.0 278.9,291.8 277.6,325.3 276.3,291.2 274.9,296.7 273.6,309.9 272.3,287.4 270.9,271.3 269.6,297.0 268.3,276.0 266.9,288.5 265.6,279.0 264.3,292.7 262.9,279.5 261.6,312.2 260.3,313.6 258.9,287.2 257.6,325.2 256.3,299.6 254.9,305.3 253.6,313.1 252.3,321.9 251.0,296.2 249.6,300.0 248.3,291.4 247.0,296.2 245.6,289.6 244.3,265.6 243.0,296.9 241.6,308.9 240.3,308.3 239.0,282.1 237.6,275.5 236.3,267.1 235.0,284.1 233.6,297.3 232.3,278.0 231.0,286.2 229.6,317.0 228.3,305.2 227.0,316.6 225.7,324.0 224.3,319.9 223.0,325.1 221.7,330.4 220.3,308.8 219.0,320.2 217.7,314.9 216.3,310.4 215.0,304.3 213.7,275.3 212.3,300.5 211.0,303.8 209.7,310.5 208.3,303.5 207.0,303.9 205.7,309.7 204.3,325.6 203.0,340.5 201.7,316.7 200.3,328.1 199.0,323.8 197.7,339.9 196.4,329.4 195.0,351.5 193.7,370.3 192.4,367.3 191.0,377.9 189.7,398.2 188.4,396.6 187.0,408.0 185.7,423.7" fill="#ff0000" fill-opacity="0.184" clip-path="url(#clipA)"/>
<polygon points="185.7,329.3 187.0,317.0 188.4,301.8 189.7,287.3 191.0,271.5 192.4,284.1 193.7,268.1 195.0,264.0 196.4,279.3 197.7,258.3 199.0,260.8 200.3,256.6 201.7,274.0 203.0,259.0 204.3,238.8 205.7,226.6 207.0,241.3 208.3,247.2 209.7,199.6 211.0,223.6 212.3,223.6 213.7,225.1 215.0,207.5 216.3,229.0 217.7,206.4 219.0,211.6 220.3,208.5 221.7,178.1 223.0,196.5 224.3,173.4 225.7,200.6 227.0,219.7 228.3,230.1 229.6,228.0 231.0,213.1 232.3,244.0 233.6,216.9 235.0,198.7 236.3,196.1 237.6,191.1 239.0,202.7 240.3,210.2 241.6,200.5 243.0,243.7 244.3,236.8 245.6,207.0 247.0,203.3 248.3,193.9 249.6,213.3 251.0,198.3 252.3,206.6 253.6,163.1 254.9,209.7 256.3,216.5 257.6,224.7 258.9,200.8 260.3,179.6 261.6,210.4 262.9,193.4 264.3,181.0 265.6,182.2 266.9,210.7 268.3,225.4 269.6,215.2 270.9,180.0 272.3,236.7 273.6,187.1 274.9,176.8 276.3,167.4 277.6,211.7 278.9,205.4 280.3,220.0 281.6,210.0 282.9,204.7 284.2,189.7 285.6,160.6 286.9,202.4 288.2,209.1 289.6,184.7 290.9,187.4 292.2,197.4 293.6,198.4 294.9,175.8 296.2,179.7 297.6,182.2 298.9,168.7 300.2,166.0 301.6,182.7 302.9,173.1 304.2,188.3 305.6,197.9 306.9,197.6 308.2,201.3 309.5,199.9 310.9,200.9 312.2,204.8 313.5,207.6 314.9,187.0 316.2,211.8 317.5,185.5 318.9,209.0 320.2,187.7 321.5,201.9 322.9,184.7 324.2,170.2 325.5,197.9 326.9,196.5 328.2,190.0 329.5,189.2 330.9,188.1 332.2,190.7 333.5,194.1 334.9,176.7 336.2,190.8 337.5,189.1 338.8,201.9 340.2,187.0 341.5,173.8 342.8,185.6 344.2,185.3 345.5,181.2 346.8,202.0 348.2,167.2 349.5,202.5 350.8,186.6 352.2,182.1 353.5,166.6 354.8,188.2 356.2,203.8 357.5,177.5 358.8,179.6 360.2,208.9 361.5,175.8 362.8,174.6 364.1,194.0 365.5,189.0 366.8,210.7 368.1,183.6 369.5,191.5 370.8,175.1 372.1,176.1 373.5,181.6 374.8,229.0 376.1,225.9 377.5,233.7 378.8,231.5 380.1,170.4 381.5,197.6 382.8,215.1 384.1,215.7 385.5,190.2 386.8,227.8 388.1,199.9 389.5,184.5 390.8,200.9 392.1,199.8 393.4,187.1 394.8,202.9 396.1,192.9 397.4,182.0 398.8,197.6 400.1,203.5 401.4,192.2 402.8,209.2 404.1,177.7 405.4,221.3 406.8,202.3 408.1,187.8 409.4,198.8 410.8,209.2 412.1,202.9 413.4,186.0 414.8,198.6 416.1,219.9 417.4,182.7 418.7,230.9 420.1,201.1 421.4,201.6 422.7,198.3 424.1,207.9 425.4,219.9 426.7,195.7 428.1,194.1 429.4,217.4 430.7,185.8 432.1,200.7 433.4,192.8 434.7,207.8 436.1,209.3 437.4,225.3 438.7,205.8 440.1,222.1 441.4,209.4 442.7,232.2 444.0,198.8 445.4,224.9 446.7,209.8 448.0,206.1 449.4,199.2 450.7,211.0 452.0,181.1 453.4,197.4 454.7,214.2 456.0,191.2 457.4,225.8 458.7,211.1 460.0,195.9 461.4,212.8 462.7,211.1 464.0,191.1 465.4,194.2 466.7,215.6 468.0,228.1 469.4,214.4 470.7,213.8 472.0,214.3 473.3,194.0 474.7,177.2 476.0,205.2 477.3,226.2 478.7,203.6 480.0,225.0 481.3,220.5 482.7,198.4 484.0,218.4 485.3,212.1 486.7,172.4 488.0,193.9 489.3,199.4 490.7,204.2 492.0,189.9 493.3,196.3 494.7,185.4 496.0,193.1 497.3,194.0 498.6,204.0 500.0,194.5 501.3,191.7 502.6,184.0 504.0,189.9 505.3,193.4 506.6,205.1 508.0,168.4 509.3,211.9 510.6,222.9 512.0,215.6 513.3,197.9 514.6,212.8 516.0,215.1 517.3,192.8 518.6,183.5 520.0,207.2 521.3,197.8 522.6,212.8 524.0,188.7 525.3,218.8 526.6,205.8 527.9,208.1 529.3,197.4 530.6,191.1 531.9,204.4 533.3,213.4 534.6,198.6 535.9,216.6 537.3,196.4 538.6,194.3 539.9,233.4 541.3,198.6 542.6,226.3 543.9,220.6 545.3,195.4 546.6,191.3 547.9,193.3 549.3,210.1 550.6,198.2 551.9,210.3 553.2,212.9 554.6,217.4 555.9,223.5 557.2,208.0 558.6,226.7 559.9,204.7 561.2,240.6 562.6,220.1 563.9,202.1 565.2,211.4 566.6,223.0 567.9,195.4 569.2,224.6 570.6,207.1 571.9,224.4 573.2,229.4 574.6,218.3 575.9,223.9 577.2,222.2 578.6,258.9 579.9,218.5 581.2,210.0 582.5,209.0 583.9,209.8 585.2,223.5 586.5,215.1 587.9,222.6 589.2,223.4 590.5,231.0 591.9,225.7 593.2,209.7 594.5,237.8 595.9,247.8 597.2,244.7 598.5,216.2 599.9,197.5 601.2,213.1 602.5,219.3 603.9,201.5 605.2,223.7 606.5,237.1 607.8,214.0 609.2,201.6 610.5,233.5 611.8,235.2 613.2,215.1 614.5,233.9 615.8,238.1 617.2,210.8 618.5,267.8 619.8,218.0 621.2,216.3 622.5,208.6 623.8,236.2 625.2,211.8 626.5,227.3 627.8,236.7 629.2,230.0 630.5,225.4 631.8,239.6 633.2,210.7 634.5,242.4 635.8,233.9 637.1,242.6 638.5,242.1 639.8,235.0 641.1,227.8 642.5,225.8 643.8,216.5 645.1,229.9 646.5,211.7 647.8,202.1 649.1,206.4 650.5,201.2 651.8,219.3 653.1,217.8 654.5,217.3 655.8,209.7 657.1,214.9 658.5,212.7 659.8,189.2 661.1,224.4 662.4,195.5 663.8,204.1 665.1,202.6 666.4,226.1 667.8,202.4 669.1,225.0 670.4,229.1 671.8,215.2 673.1,207.9 674.4,228.5 675.8,247.1 677.1,256.0 678.4,262.9 679.8,241.4 681.1,229.4 682.4,221.0 683.8,224.0 685.1,217.4 686.4,203.0 687.8,233.4 689.1,194.4 690.4,221.9 691.7,206.5 693.1,208.2 694.4,207.7 695.7,209.6 697.1,209.2 698.4,190.8 699.7,213.4 701.1,200.0 702.4,192.5 703.7,211.6 705.1,213.1 706.4,222.3 707.7,199.4 709.1,217.4 710.4,214.9 711.7,229.1 713.1,199.0 714.4,189.7 715.7,191.4 717.0,210.6 718.4,221.9 719.7,233.5 721.0,199.2 722.4,201.8 723.7,183.9 725.0,185.3 726.4,203.2 727.7,199.7 729.0,181.3 730.4,222.6 731.7,219.5 733.0,220.3 734.4,197.7 735.7,251.4 737.0,207.3 738.4,195.5 739.7,204.2 741.0,185.0 742.4,209.2 743.7,171.1 745.0,178.1 746.3,191.6 747.7,192.6 749.0,217.0 750.3,179.6 751.7,200.0 753.0,209.1 754.3,210.4 755.7,212.3 757.0,202.7 758.3,228.1 759.7,188.3 761.0,206.1 762.3,223.7 763.7,213.1 765.0,212.9 766.3,216.3 767.7,183.9 769.0,194.1 770.3,198.0 771.6,182.3 773.0,202.4 774.3,190.5 775.6,226.0 777.0,229.4 778.3,224.5 779.6,196.6 781.0,193.4 782.3,210.4 783.6,192.6 785.0,196.8 786.3,168.3 787.6,202.4 789.0,181.5 790.3,199.8 791.6,181.0 793.0,191.2 794.3,200.6 795.6,186.5 797.0,173.4 798.3,200.6 799.6,195.4 800.9,206.0 802.3,165.5 803.6,209.5 804.9,223.4 806.3,186.3 807.6,193.0 808.9,232.9 810.3,201.7 811.6,212.8 812.9,200.3 814.3,203.5 815.6,210.9 816.9,206.9 818.3,203.7 819.6,221.5 820.9,219.0 822.3,192.7 823.6,219.5 824.9,202.3 826.2,191.9 827.6,216.9 828.9,183.1 830.2,222.1 831.6,193.9 832.9,228.8 834.2,210.0 835.6,209.6 836.9,235.7 838.2,218.3 839.6,212.9 840.9,209.4 842.2,180.7 843.6,207.6 844.9,205.0 846.2,192.9 847.6,186.2 848.9,197.4 850.2,215.8 851.5,215.8 852.9,205.7 854.2,201.9 855.5,234.6 856.9,205.3 858.2,214.9 859.5,206.2 860.9,191.1 862.2,224.8 863.5,226.2 864.9,235.0 866.2,256.3 867.5,214.5 868.9,240.0 870.2,238.2 871.5,211.1 872.9,200.0 874.2,231.2 875.5,210.1 876.9,211.2 878.2,216.3 879.5,207.7 880.8,206.6 882.2,225.7 883.5,219.6 884.8,209.3 886.2,191.3 887.5,194.8 888.8,182.2 890.2,199.6 891.5,235.2 892.8,245.9 894.2,236.9 895.5,226.9 896.8,251.5 898.2,217.8 899.5,230.9 900.8,247.2 902.2,241.7 903.5,220.2 904.8,212.9 906.1,236.7 907.5,212.5 908.8,215.3 910.1,230.5 911.5,207.8 912.8,195.7 914.1,235.4 915.5,216.1 916.8,217.5 918.1,216.8 919.5,221.3 920.8,210.0 922.1,234.4 923.5,231.3 924.8,256.3 926.1,218.2 927.5,217.6 928.8,209.9 930.1,229.3 931.5,260.4 932.8,274.2 934.1,218.4 935.4,213.0 936.8,239.4 938.1,231.1 939.4,230.4 940.8,245.1 942.1,225.9 943.4,221.9 944.8,235.8 946.1,255.6 947.4,223.7 948.8,226.1 950.1,238.1 951.4,256.0 952.8,250.1 954.1,235.6 955.4,244.1 956.8,251.4 958.1,230.7 959.4,230.3 960.7,249.9 962.1,254.6 963.4,244.4 964.7,246.3 966.1,234.2 967.4,245.1 968.7,235.8 970.1,240.7 971.4,252.7 972.7,242.3 974.1,260.3 975.4,228.8 976.7,243.9 978.1,224.1 979.4,252.2 980.7,239.4 982.1,228.4 983.4,245.3 984.7,228.5 986.1,239.2 987.4,266.6 988.7,269.6 990.0,268.9 991.4,252.1 992.7,252.9 994.0,233.2 995.4,225.9 996.7,244.8 998.0,238.8 999.4,251.6 1000.7,245.2 1002.0,252.3 1003.4,247.5 1004.7,253.4 1006.0,269.0 1007.4,237.7 1008.7,250.0 1010.0,252.5 1011.4,223.8 1012.7,244.6 1014.0,230.4 1015.3,255.0 1016.7,243.1 1018.0,235.9 1019.3,235.5 1020.7,242.4 1022.0,248.9 1023.3,242.2 1024.7,230.1 1026.0,245.8 1027.3,236.7 1028.7,251.0 1030.0,254.3 1031.3,233.3 1032.7,228.8 1034.0,242.5 1035.3,243.5 1036.7,253.7 1038.0,264.7 1039.3,255.6 1039.3,309.1 1038.0,325.0 1036.7,306.2 1035.3,331.3 1034.0,343.8 1032.7,321.4 1031.3,325.6 1030.0,335.4 1028.7,337.4 1027.3,322.9 1026.0,325.0 1024.7,316.0 1023.3,342.8 1022.0,333.9 1020.7,344.5 1019.3,357.4 1018.0,345.1 1016.7,350.5 1015.3,343.2 1014.0,331.3 1012.7,344.0 1011.4,345.3 1010.0,347.2 1008.7,356.2 1007.4,331.5 1006.0,344.3 1004.7,325.8 1003.4,296.2 1002.0,332.3 1000.7,347.3 999.4,329.6 998.0,314.8 996.7,335.5 995.4,311.3 994.0,316.1 992.7,320.7 991.4,337.3 990.0,326.0 988.7,324.3 987.4,345.3 986.1,333.1 984.7,340.8 983.4,329.3 982.1,347.0 980.7,348.1 979.4,328.8 978.1,347.8 976.7,355.2 975.4,314.5 974.1,331.6 972.7,314.1 971.4,315.9 970.1,318.0 968.7,303.7 967.4,335.2 966.1,309.5 964.7,307.8 963.4,336.7 962.1,293.1 960.7,332.8 959.4,346.4 958.1,319.4 956.8,335.7 955.4,305.2 954.1,318.8 952.8,325.6 951.4,331.2 950.1,355.4 948.8,304.5 947.4,312.0 946.1,331.9 944.8,356.5 943.4,326.5 942.1,339.3 940.8,335.7 939.4,329.7 938.1,332.4 936.8,304.7 935.4,340.9 934.1,314.9 932.8,341.2 931.5,328.3 930.1,335.7 928.8,335.7 927.5,303.3 926.1,302.1 924.8,338.5 923.5,322.4 922.1,341.1 920.8,321.4 919.5,324.3 918.1,319.5 916.8,312.4 915.5,322.8 914.1,320.2 912.8,319.8 911.5,347.3 910.1,324.4 908.8,330.0 907.5,332.6 906.1,316.8 904.8,314.1 903.5,312.8 902.2,321.1 900.8,309.8 899.5,324.4 898.2,338.1 896.8,323.9 895.5,332.9 894.2,344.6 892.8,336.6 891.5,341.0 890.2,335.6 888.8,307.6 887.5,340.6 886.2,356.4 884.8,341.6 883.5,330.3 882.2,361.5 880.8,338.1 879.5,335.3 878.2,336.7 876.9,332.9 875.5,325.2 874.2,323.6 872.9,309.8 871.5,307.7 870.2,277.2 868.9,333.4 867.5,336.9 866.2,326.1 864.9,318.8 863.5,324.4 862.2,327.9 860.9,311.4 859.5,310.6 858.2,319.0 856.9,324.8 855.5,324.5 854.2,317.4 852.9,319.2 851.5,359.9 850.2,311.7 848.9,323.9 847.6,318.6 846.2,313.6 844.9,330.0 843.6,337.5 842.2,338.2 840.9,348.8 839.6,330.0 838.2,340.1 836.9,330.0 835.6,312.3 834.2,346.8 832.9,323.0 831.6,337.5 830.2,346.4 828.9,341.8 827.6,323.0 826.2,347.9 824.9,341.5 823.6,314.0 822.3,325.0 820.9,316.4 819.6,300.7 818.3,284.6 816.9,310.4 815.6,318.5 814.3,311.1 812.9,343.5 811.6,339.3 810.3,329.3 808.9,339.2 807.6,327.2 806.3,342.8 804.9,326.7 803.6,359.3 802.3,321.5 800.9,322.1 799.6,345.7 798.3,321.1 797.0,337.6 795.6,331.0 794.3,303.0 793.0,341.0 791.6,324.6 790.3,317.9 789.0,335.2 787.6,330.6 786.3,322.8 785.0,317.5 783.6,325.8 782.3,319.5 781.0,361.0 779.6,322.9 778.3,322.8 777.0,343.5 775.6,335.6 774.3,349.6 773.0,323.5 771.6,289.8 770.3,339.6 769.0,323.1 767.7,330.0 766.3,345.3 765.0,324.0 763.7,345.9 762.3,322.5 761.0,332.8 759.7,338.4 758.3,334.1 757.0,324.8 755.7,292.0 754.3,327.6 753.0,340.3 751.7,341.7 750.3,356.9 749.0,336.9 747.7,319.7 746.3,330.8 745.0,342.3 743.7,342.5 742.4,338.6 741.0,344.5 739.7,312.0 738.4,338.5 737.0,356.8 735.7,328.8 734.4,309.7 733.0,337.6 731.7,324.0 730.4,304.7 729.0,353.6 727.7,345.8 726.4,354.9 725.0,315.8 723.7,326.2 722.4,340.8 721.0,329.1 719.7,333.3 718.4,345.6 717.0,361.2 715.7,333.5 714.4,339.7 713.1,302.8 711.7,343.9 710.4,325.2 709.1,316.8 707.7,337.9 706.4,320.0 705.1,329.2 703.7,330.5 702.4,295.3 701.1,360.4 699.7,318.0 698.4,313.7 697.1,328.3 695.7,334.3 694.4,333.1 693.1,352.5 691.7,358.7 690.4,347.8 689.1,342.0 687.8,334.9 686.4,351.5 685.1,335.3 683.8,345.9 682.4,342.4 681.1,331.2 679.8,342.1 678.4,309.8 677.1,337.1 675.8,312.7 674.4,311.8 673.1,324.4 671.8,331.3 670.4,315.2 669.1,340.1 667.8,335.9 666.4,328.3 665.1,352.7 663.8,331.0 662.4,338.1 661.1,348.0 659.8,330.0 658.5,319.3 657.1,345.8 655.8,336.5 654.5,325.7 653.1,317.8 651.8,336.4 650.5,312.3 649.1,345.2 647.8,325.2 646.5,318.1 645.1,314.4 643.8,338.9 642.5,357.1 641.1,328.8 639.8,320.7 638.5,333.7 637.1,324.2 635.8,338.3 634.5,327.3 633.2,317.4 631.8,339.9 630.5,344.3 629.2,348.3 627.8,346.8 626.5,306.4 625.2,294.8 623.8,337.8 622.5,324.6 621.2,322.7 619.8,341.7 618.5,328.1 617.2,324.8 615.8,332.1 614.5,320.9 613.2,324.0 611.8,319.2 610.5,317.8 609.2,341.8 607.8,316.2 606.5,344.1 605.2,342.8 603.9,329.0 602.5,336.9 601.2,345.6 599.9,369.6 598.5,329.8 597.2,321.1 595.9,312.4 594.5,339.9 593.2,338.2 591.9,323.5 590.5,316.9 589.2,374.1 587.9,363.0 586.5,335.3 585.2,320.1 583.9,342.8 582.5,347.4 581.2,328.5 579.9,301.1 578.6,337.7 577.2,324.2 575.9,329.3 574.6,336.6 573.2,338.6 571.9,327.9 570.6,313.8 569.2,319.1 567.9,333.9 566.6,320.5 565.2,331.6 563.9,326.9 562.6,299.6 561.2,328.0 559.9,318.3 558.6,319.6 557.2,355.9 555.9,322.8 554.6,339.7 553.2,339.0 551.9,382.7 550.6,338.3 549.3,318.1 547.9,318.5 546.6,342.4 545.3,344.1 543.9,342.1 542.6,337.7 541.3,320.4 539.9,333.1 538.6,302.6 537.3,338.6 535.9,332.1 534.6,336.2 533.3,345.9 531.9,320.0 530.6,314.4 529.3,323.2 527.9,328.5 526.6,331.0 525.3,324.7 524.0,331.4 522.6,323.4 521.3,325.4 520.0,331.6 518.6,336.4 517.3,339.5 516.0,317.7 514.6,322.5 513.3,345.4 512.0,317.5 510.6,344.3 509.3,359.2 508.0,327.0 506.6,340.2 505.3,369.5 504.0,338.2 502.6,318.8 501.3,362.7 500.0,342.9 498.6,347.4 497.3,336.3 496.0,331.8 494.7,337.7 493.3,317.9 492.0,324.7 490.7,336.7 489.3,343.5 488.0,336.2 486.7,352.4 485.3,340.9 484.0,344.0 482.7,345.1 481.3,313.3 480.0,354.8 478.7,338.4 477.3,338.7 476.0,315.3 474.7,327.8 473.3,318.6 472.0,338.0 470.7,307.7 469.4,312.6 468.0,289.1 466.7,329.1 465.4,318.5 464.0,319.3 462.7,316.4 461.4,316.4 460.0,316.6 458.7,322.0 457.4,321.1 456.0,336.8 454.7,315.2 453.4,328.1 452.0,326.9 450.7,298.3 449.4,328.5 448.0,307.3 446.7,301.1 445.4,344.3 444.0,305.5 442.7,332.2 441.4,325.9 440.1,309.9 438.7,299.1 437.4,274.9 436.1,310.1 434.7,303.8 433.4,334.9 432.1,310.6 430.7,317.6 429.4,323.5 428.1,326.9 426.7,288.2 425.4,308.1 424.1,329.6 422.7,320.0 421.4,302.4 420.1,299.7 418.7,324.4 417.4,309.6 416.1,317.6 414.8,292.7 413.4,293.7 412.1,315.3 410.8,296.0 409.4,326.9 408.1,314.7 406.8,292.0 405.4,319.9 404.1,315.4 402.8,304.6 401.4,294.2 400.1,309.6 398.8,293.9 397.4,307.0 396.1,320.0 394.8,294.1 393.4,263.3 392.1,285.3 390.8,285.4 389.5,297.7 388.1,324.4 386.8,296.3 385.5,311.5 384.1,301.7 382.8,296.0 381.5,286.1 380.1,309.3 378.8,323.5 377.5,295.5 376.1,295.6 374.8,295.8 373.5,320.1 372.1,278.0 370.8,291.7 369.5,304.7 368.1,327.5 366.8,289.1 365.5,312.7 364.1,265.8 362.8,277.8 361.5,282.8 360.2,303.5 358.8,288.9 357.5,307.9 356.2,325.3 354.8,296.9 353.5,275.1 352.2,299.5 350.8,286.4 349.5,285.1 348.2,306.0 346.8,310.7 345.5,294.2 344.2,288.0 342.8,313.2 341.5,327.0 340.2,311.6 338.8,330.8 337.5,295.3 336.2,267.5 334.9,310.7 333.5,303.8 332.2,285.1 330.9,296.2 329.5,284.3 328.2,289.4 326.9,293.9 325.5,266.6 324.2,305.0 322.9,304.1 321.5,308.0 320.2,300.3 318.9,300.9 317.5,291.3 316.2,280.4 314.9,294.6 313.5,287.9 312.2,283.6 310.9,308.4 309.5,279.2 308.2,288.5 306.9,283.4 305.6,277.9 304.2,286.7 302.9,293.6 301.6,277.3 300.2,295.8 298.9,270.8 297.6,298.5 296.2,303.9 294.9,333.0 293.6,299.1 292.2,269.8 290.9,281.9 289.6,280.3 288.2,269.2 286.9,270.2 285.6,300.3 284.2,266.5 282.9,278.0 281.6,303.5 280.3,297.0 278.9,291.8 277.6,325.3 276.3,291.2 274.9,296.7 273.6,309.9 272.3,287.4 270.9,271.3 269.6,297.0 268.3,276.0 266.9,288.5 265.6,279.0 264.3,292.7 262.9,279.5 261.6,312.2 260.3,313.6 258.9,287.2 257.6,325.2 256.3,299.6 254.9,305.3 253.6,313.1 252.3,321.9 251.0,296.2 249.6,300.0 248.3,291.4 247.0,296.2 245.6,289.6 244.3,265.6 243.0,296.9 241.6,308.9 240.3,308.3 239.0,282.1 237.6,275.5 236.3,267.1 235.0,284.1 233.6,297.3 232.3,278.0 231.0,286.2 229.6,317.0 228.3,305.2 227.0,316.6 225.7,324.0 224.3,319.9 223.0,325.1 221.7,330.4 220.3,308.8 219.0,320.2 217.7,314.9 216.3,310.4 215.0,304.3 213.7,275.3 212.3,300.5 211.0,303.8 209.7,310.5 208.3,303.5 207.0,303.9 205.7,309.7 204.3,325.6 203.0,340.5 201.7,316.7 200.3,328.1 199.0,323.8 197.7,339.9 196.4,329.4 195.0,351.5 193.7,370.3 192.4,367.3 191.0,377.9 189.7,398.2 188.4,396.6 187.0,408.0 185.7,423.7" fill="#ff8cc8" fill-opacity="0.24" clip-path="url(#clipA)"/>
<polyline points="185.7,437.1 187.0,419.6 188.4,401.6 189.7,383.9 191.0,355.2 192.4,340.4 193.7,334.8 195.0,331.8 196.4,327.0 197.7,336.3 199.0,302.0 200.3,314.1 201.7,313.3 203.0,338.0 204.3,322.0 205.7,315.2 207.0,300.8 208.3,299.3 209.7,276.8 211.0,294.2 212.3,306.5 213.7,268.6 215.0,281.9 216.3,293.8 217.7,286.6 219.0,287.4 220.3,292.8 221.7,293.1 223.0,295.4 224.3,279.0 225.7,282.4 227.0,295.5 228.3,312.7 229.6,308.6 231.0,299.5 232.3,273.3 233.6,314.7 235.0,294.0 236.3,297.9 237.6,291.3 239.0,288.2 240.3,296.4 241.6,295.3 243.0,279.5 244.3,290.8 245.6,320.7 247.0,263.4 248.3,286.1 249.6,280.7 251.0,274.5 252.3,283.9 253.6,248.0 254.9,262.2 256.3,293.5 257.6,290.4 258.9,287.3 260.3,295.7 261.6,279.9 262.9,298.2 264.3,273.7 265.6,283.6 266.9,256.6 268.3,282.7 269.6,274.4 270.9,242.7 272.3,277.9 273.6,267.2 274.9,282.0 276.3,300.9 277.6,269.3 278.9,271.0 280.3,295.9 281.6,277.0 282.9,291.3 284.2,286.5 285.6,278.3 286.9,294.1 288.2,290.5 289.6,286.2 290.9,275.7 292.2,279.8 293.6,275.8 294.9,268.9 296.2,303.7 297.6,283.3 298.9,260.8 300.2,279.9 301.6,297.1 302.9,288.1 304.2,285.4 305.6,271.1 306.9,286.9 308.2,264.3 309.5,260.6 310.9,281.2 312.2,263.5 313.5,276.9 314.9,288.0 316.2,282.4 317.5,271.2 318.9,267.4 320.2,263.7 321.5,245.3 322.9,266.6 324.2,276.3 325.5,264.1 326.9,268.8 328.2,264.3 329.5,245.3 330.9,260.9 332.2,257.0 333.5,250.7 334.9,250.5 336.2,262.4 337.5,271.3 338.8,268.1 340.2,253.5 341.5,269.5 342.8,253.2 344.2,269.1 345.5,284.2 346.8,256.1 348.2,253.6 349.5,284.9 350.8,264.6 352.2,262.2 353.5,278.1 354.8,291.1 356.2,255.4 357.5,262.4 358.8,276.7 360.2,271.4 361.5,272.3 362.8,266.4 364.1,266.1 365.5,246.5 366.8,266.1 368.1,274.0 369.5,261.3 370.8,263.0 372.1,273.2 373.5,264.3 374.8,248.0 376.1,267.6 377.5,269.3 378.8,300.5 380.1,303.8 381.5,274.8 382.8,272.9 384.1,262.6 385.5,252.3 386.8,267.4 388.1,267.2 389.5,274.9 390.8,281.5 392.1,308.9 393.4,284.8 394.8,291.2 396.1,278.0 397.4,278.8 398.8,278.7 400.1,290.8 401.4,318.1 402.8,299.7 404.1,299.1 405.4,289.4 406.8,292.0 408.1,273.8 409.4,286.5 410.8,292.1 412.1,286.7 413.4,273.4 414.8,304.9 416.1,288.4 417.4,287.1 418.7,286.4 420.1,295.0 421.4,298.4 422.7,283.5 424.1,283.9 425.4,286.5 426.7,296.8 428.1,284.5 429.4,291.7 430.7,293.0 432.1,288.7 433.4,298.8 434.7,277.4 436.1,302.5 437.4,292.2 438.7,291.9 440.1,305.5 441.4,287.4 442.7,282.1 444.0,291.0 445.4,294.7 446.7,298.1 448.0,302.5 449.4,308.9 450.7,282.0 452.0,302.6 453.4,288.1 454.7,300.7 456.0,301.1 457.4,288.4 458.7,293.1 460.0,314.5 461.4,315.5 462.7,320.2 464.0,320.1 465.4,282.6 466.7,291.3 468.0,288.7 469.4,316.7 470.7,287.0 472.0,314.2 473.3,297.4 474.7,297.3 476.0,305.5 477.3,314.6 478.7,298.3 480.0,309.4 481.3,308.2 482.7,333.3 484.0,332.0 485.3,314.0 486.7,333.0 488.0,321.2 489.3,325.0 490.7,313.4 492.0,310.3 493.3,316.4 494.7,291.7 496.0,310.6 497.3,306.3 498.6,297.2 500.0,256.7 501.3,279.3 502.6,278.0 504.0,273.3 505.3,286.9 506.6,251.7 508.0,295.1 509.3,289.9 510.6,306.3 512.0,290.2 513.3,325.3 514.6,299.3 516.0,316.0 517.3,298.0 518.6,300.2 520.0,333.1 521.3,292.0 522.6,287.7 524.0,287.0 525.3,276.7 526.6,302.9 527.9,299.2 529.3,271.2 530.6,270.6 531.9,301.4 533.3,304.1 534.6,285.8 535.9,288.7 537.3,268.9 538.6,281.8 539.9,267.4 541.3,277.6 542.6,300.9 543.9,284.3 545.3,315.5 546.6,297.7 547.9,285.4 549.3,308.5 550.6,318.7 551.9,303.1 553.2,283.1 554.6,301.8 555.9,318.1 557.2,301.7 558.6,295.7 559.9,317.0 561.2,304.9 562.6,299.1 563.9,301.7 565.2,280.3 566.6,305.6 567.9,303.3 569.2,305.1 570.6,302.4 571.9,275.6 573.2,316.5 574.6,322.0 575.9,303.1 577.2,316.8 578.6,298.5 579.9,310.0 581.2,315.8 582.5,278.6 583.9,274.1 585.2,307.9 586.5,289.6 587.9,282.1 589.2,281.7 590.5,298.2 591.9,283.2 593.2,302.2 594.5,304.1 595.9,294.1 597.2,321.5 598.5,296.3 599.9,303.6 601.2,322.0 602.5,307.2 603.9,296.9 605.2,326.4 606.5,286.5 607.8,319.1 609.2,314.6 610.5,322.3 611.8,307.3 613.2,312.0 614.5,289.6 615.8,311.1 617.2,292.2 618.5,300.7 619.8,333.5 621.2,311.8 622.5,312.9 623.8,337.4 625.2,307.9 626.5,298.8 627.8,307.8 629.2,298.1 630.5,323.4 631.8,321.0 633.2,291.2 634.5,294.5 635.8,299.3 637.1,306.8 638.5,296.5 639.8,307.1 641.1,290.2 642.5,310.8 643.8,304.8 645.1,314.8 646.5,316.4 647.8,298.7 649.1,319.4 650.5,306.6 651.8,301.9 653.1,294.3 654.5,307.2 655.8,329.2 657.1,305.4 658.5,323.7 659.8,325.9 661.1,322.7 662.4,329.8 663.8,306.2 665.1,310.8 666.4,324.0 667.8,300.7 669.1,316.7 670.4,297.3 671.8,306.4 673.1,281.2 674.4,296.6 675.8,302.5 677.1,306.2 678.4,308.1 679.8,315.7 681.1,315.2 682.4,302.0 683.8,315.1 685.1,292.6 686.4,312.6 687.8,302.7 689.1,288.3 690.4,316.5 691.7,291.1 693.1,275.9 694.4,287.4 695.7,288.4 697.1,303.8 698.4,280.4 699.7,307.3 701.1,274.3 702.4,293.3 703.7,302.3 705.1,317.8 706.4,280.7 707.7,294.2 709.1,294.7 710.4,287.8 711.7,292.0 713.1,281.3 714.4,271.7 715.7,309.6 717.0,307.9 718.4,290.6 719.7,283.4 721.0,311.1 722.4,302.6 723.7,297.3 725.0,304.1 726.4,283.7 727.7,289.8 729.0,283.5 730.4,287.0 731.7,284.5 733.0,290.0 734.4,290.1 735.7,283.2 737.0,285.4 738.4,286.8 739.7,300.0 741.0,274.6 742.4,267.6 743.7,278.5 745.0,278.2 746.3,297.2 747.7,288.8 749.0,303.5 750.3,300.9 751.7,282.3 753.0,266.2 754.3,311.7 755.7,289.0 757.0,285.4 758.3,288.2 759.7,295.9 761.0,301.1 762.3,289.4 763.7,297.3 765.0,255.2 766.3,285.1 767.7,276.6 769.0,303.9 770.3,278.5 771.6,279.5 773.0,282.0 774.3,297.5 775.6,274.0 777.0,281.1 778.3,269.1 779.6,289.1 781.0,284.7 782.3,284.0 783.6,267.9 785.0,275.5 786.3,286.9 787.6,290.6 789.0,298.4 790.3,268.6 791.6,291.9 793.0,289.0 794.3,283.0 795.6,274.2 797.0,274.6 798.3,263.1 799.6,289.6 800.9,282.9 802.3,288.8 803.6,315.3 804.9,304.3 806.3,287.2 807.6,295.7 808.9,285.9 810.3,274.8 811.6,286.1 812.9,284.2 814.3,260.4 815.6,267.2 816.9,287.9 818.3,280.9 819.6,255.7 820.9,262.5 822.3,271.6 823.6,282.0 824.9,277.2 826.2,287.1 827.6,277.9 828.9,265.4 830.2,306.9 831.6,294.3 832.9,293.6 834.2,290.5 835.6,297.6 836.9,272.4 838.2,276.8 839.6,279.3 840.9,308.2 842.2,293.8 843.6,284.6 844.9,287.6 846.2,299.7 847.6,294.1 848.9,303.6 850.2,306.5 851.5,281.4 852.9,304.0 854.2,285.6 855.5,316.2 856.9,301.5 858.2,333.5 859.5,296.6 860.9,266.5 862.2,286.8 863.5,302.1 864.9,277.3 866.2,292.9 867.5,290.4 868.9,299.9 870.2,297.4 871.5,293.1 872.9,294.6 874.2,296.7 875.5,298.5 876.9,283.1 878.2,281.8 879.5,287.5 880.8,261.4 882.2,289.5 883.5,300.0 884.8,284.7 886.2,293.9 887.5,296.7 888.8,318.2 890.2,312.2 891.5,315.6 892.8,295.7 894.2,300.4 895.5,314.9 896.8,311.7 898.2,293.3 899.5,305.9 900.8,289.8 902.2,300.0 903.5,306.8 904.8,310.9 906.1,289.6 907.5,305.4 908.8,293.9 910.1,271.2 911.5,267.6 912.8,285.6 914.1,278.9 915.5,256.0 916.8,287.8 918.1,287.6 919.5,287.3 920.8,311.9 922.1,298.5 923.5,288.3 924.8,291.1 926.1,283.2 927.5,302.0 928.8,304.6 930.1,302.9 931.5,310.5 932.8,337.5 934.1,314.4 935.4,326.0 936.8,316.7 938.1,308.8 939.4,314.4 940.8,302.0 942.1,319.1 943.4,285.6 944.8,300.7 946.1,279.4 947.4,281.9 948.8,298.9 950.1,312.3 951.4,296.7 952.8,291.5 954.1,295.5 955.4,292.7 956.8,298.3 958.1,296.4 959.4,280.1 960.7,298.1 962.1,286.3 963.4,280.3 964.7,291.4 966.1,284.7 967.4,315.4 968.7,291.6 970.1,329.0 971.4,322.7 972.7,302.2 974.1,292.5 975.4,322.8 976.7,322.4 978.1,290.7 979.4,306.3 980.7,331.2 982.1,310.8 983.4,310.0 984.7,281.1 986.1,295.1 987.4,283.0 988.7,326.8 990.0,297.3 991.4,277.3 992.7,302.0 994.0,294.8 995.4,318.6 996.7,291.9 998.0,318.0 999.4,324.7 1000.7,322.5 1002.0,296.5 1003.4,306.4 1004.7,291.6 1006.0,283.9 1007.4,288.1 1008.7,300.2 1010.0,288.9 1011.4,306.8 1012.7,273.3 1014.0,296.4 1015.3,299.3 1016.7,291.8 1018.0,296.1 1019.3,294.8 1020.7,310.4 1022.0,312.0 1023.3,304.5 1024.7,295.2 1026.0,274.4 1027.3,294.9 1028.7,288.6 1030.0,310.6 1031.3,307.7 1032.7,295.0 1034.0,307.5 1035.3,297.9 1036.7,270.9 1038.0,301.0 1039.3,282.6" fill="none" stroke="#1a00e6" stroke-width="2.1" stroke-linejoin="round" clip-path="url(#clipA)"/>
<polyline points="185.7,335.4 187.0,321.6 188.4,316.8 189.7,316.2 191.0,295.8 192.4,304.2 193.7,292.0 195.0,274.1 196.4,311.8 197.7,277.1 199.0,249.5 200.3,258.0 201.7,268.3 203.0,261.6 204.3,277.3 205.7,250.5 207.0,263.4 208.3,266.8 209.7,236.5 211.0,250.3 212.3,233.7 213.7,225.0 215.0,213.0 216.3,212.1 217.7,217.4 219.0,236.0 220.3,242.0 221.7,225.1 223.0,222.5 224.3,223.4 225.7,190.1 227.0,201.9 228.3,200.0 229.6,223.4 231.0,213.9 232.3,191.4 233.6,202.4 235.0,205.0 236.3,228.4 237.6,207.0 239.0,212.6 240.3,217.4 241.6,218.7 243.0,215.6 244.3,203.1 245.6,213.6 247.0,194.3 248.3,212.9 249.6,206.8 251.0,202.2 252.3,199.8 253.6,203.8 254.9,216.4 256.3,193.3 257.6,189.5 258.9,173.1 260.3,194.3 261.6,169.0 262.9,170.1 264.3,187.5 265.6,189.4 266.9,197.0 268.3,223.2 269.6,199.5 270.9,219.4 272.3,213.5 273.6,211.2 274.9,198.3 276.3,206.8 277.6,208.3 278.9,205.6 280.3,191.7 281.6,197.4 282.9,196.0 284.2,185.4 285.6,188.9 286.9,174.7 288.2,201.1 289.6,200.0 290.9,200.2 292.2,182.3 293.6,190.6 294.9,181.3 296.2,196.4 297.6,211.6 298.9,177.7 300.2,217.5 301.6,184.5 302.9,204.2 304.2,185.1 305.6,218.3 306.9,211.7 308.2,200.2 309.5,222.3 310.9,229.7 312.2,205.0 313.5,201.0 314.9,219.3 316.2,209.0 317.5,221.5 318.9,200.3 320.2,205.9 321.5,205.1 322.9,198.3 324.2,177.1 325.5,207.8 326.9,195.2 328.2,210.8 329.5,210.8 330.9,202.2 332.2,208.9 333.5,194.8 334.9,208.4 336.2,218.0 337.5,218.0 338.8,202.0 340.2,204.8 341.5,241.0 342.8,201.4 344.2,194.9 345.5,213.2 346.8,228.3 348.2,190.8 349.5,205.9 350.8,198.0 352.2,185.6 353.5,211.5 354.8,194.6 356.2,199.2 357.5,199.6 358.8,204.2 360.2,193.5 361.5,204.6 362.8,185.5 364.1,188.8 365.5,210.7 366.8,202.8 368.1,227.7 369.5,232.3 370.8,216.3 372.1,215.0 373.5,223.0 374.8,210.6 376.1,220.7 377.5,206.5 378.8,227.7 380.1,219.2 381.5,225.2 382.8,211.9 384.1,194.7 385.5,222.1 386.8,227.9 388.1,214.4 389.5,224.1 390.8,220.2 392.1,205.2 393.4,219.6 394.8,211.4 396.1,234.0 397.4,204.3 398.8,234.3 400.1,223.5 401.4,221.5 402.8,232.3 404.1,238.0 405.4,196.4 406.8,202.1 408.1,222.6 409.4,195.2 410.8,218.4 412.1,224.4 413.4,186.5 414.8,181.5 416.1,216.1 417.4,222.3 418.7,212.1 420.1,216.7 421.4,210.1 422.7,195.6 424.1,213.9 425.4,203.5 426.7,192.2 428.1,213.5 429.4,210.3 430.7,216.9 432.1,198.7 433.4,201.4 434.7,208.3 436.1,210.6 437.4,228.0 438.7,223.4 440.1,234.6 441.4,245.7 442.7,248.3 444.0,214.3 445.4,232.9 446.7,234.8 448.0,242.6 449.4,204.2 450.7,208.3 452.0,229.5 453.4,226.7 454.7,231.6 456.0,224.4 457.4,242.2 458.7,232.7 460.0,204.9 461.4,227.8 462.7,193.9 464.0,189.5 465.4,213.7 466.7,245.3 468.0,229.6 469.4,211.7 470.7,221.0 472.0,237.9 473.3,225.2 474.7,217.7 476.0,224.9 477.3,233.9 478.7,251.3 480.0,245.6 481.3,249.0 482.7,232.1 484.0,246.6 485.3,237.7 486.7,262.9 488.0,230.3 489.3,239.5 490.7,239.6 492.0,225.2 493.3,251.8 494.7,259.7 496.0,234.6 497.3,251.7 498.6,240.2 500.0,212.3 501.3,246.7 502.6,239.2 504.0,256.2 505.3,241.3 506.6,259.6 508.0,260.0 509.3,263.0 510.6,247.6 512.0,246.8 513.3,262.3 514.6,239.5 516.0,238.4 517.3,209.7 518.6,249.7 520.0,230.1 521.3,241.3 522.6,238.0 524.0,230.9 525.3,236.1 526.6,236.5 527.9,227.3 529.3,221.8 530.6,238.3 531.9,221.3 533.3,217.8 534.6,233.7 535.9,227.0 537.3,260.4 538.6,239.1 539.9,241.2 541.3,236.0 542.6,228.2 543.9,245.6 545.3,268.3 546.6,251.8 547.9,251.0 549.3,242.5 550.6,252.9 551.9,231.9 553.2,253.8 554.6,244.8 555.9,275.7 557.2,237.9 558.6,253.8 559.9,273.4 561.2,250.1 562.6,242.1 563.9,251.7 565.2,242.3 566.6,237.3 567.9,274.2 569.2,294.4 570.6,254.8 571.9,248.8 573.2,239.9 574.6,265.4 575.9,241.6 577.2,239.8 578.6,276.3 579.9,257.8 581.2,273.5 582.5,268.9 583.9,246.6 585.2,249.6 586.5,253.7 587.9,245.6 589.2,240.6 590.5,239.3 591.9,269.4 593.2,288.5 594.5,266.8 595.9,252.0 597.2,259.3 598.5,251.9 599.9,251.5 601.2,246.4 602.5,239.5 603.9,254.3 605.2,227.5 606.5,228.2 607.8,234.8 609.2,233.9 610.5,244.2 611.8,261.7 613.2,245.1 614.5,247.7 615.8,209.7 617.2,236.8 618.5,208.9 619.8,220.8 621.2,250.6 622.5,244.0 623.8,233.9 625.2,227.5 626.5,245.5 627.8,237.0 629.2,267.9 630.5,297.7 631.8,255.5 633.2,245.1 634.5,257.8 635.8,267.3 637.1,260.3 638.5,243.0 639.8,251.2 641.1,236.1 642.5,258.0 643.8,265.0 645.1,261.9 646.5,241.8 647.8,244.9 649.1,243.1 650.5,237.0 651.8,240.8 653.1,241.6 654.5,242.6 655.8,269.5 657.1,260.2 658.5,263.8 659.8,270.8 661.1,238.1 662.4,255.4 663.8,256.9 665.1,272.3 666.4,261.5 667.8,269.4 669.1,258.3 670.4,239.8 671.8,246.9 673.1,262.0 674.4,269.4 675.8,235.9 677.1,255.5 678.4,248.9 679.8,248.5 681.1,238.3 682.4,252.6 683.8,249.1 685.1,277.2 686.4,244.4 687.8,280.9 689.1,255.4 690.4,261.8 691.7,248.6 693.1,277.1 694.4,292.1 695.7,259.0 697.1,281.2 698.4,272.5 699.7,248.1 701.1,245.4 702.4,248.9 703.7,247.3 705.1,245.3 706.4,245.4 707.7,269.3 709.1,248.7 710.4,243.7 711.7,255.2 713.1,269.6 714.4,249.7 715.7,260.0 717.0,245.8 718.4,232.4 719.7,252.1 721.0,248.0 722.4,273.3 723.7,242.7 725.0,257.3 726.4,254.6 727.7,254.3 729.0,263.8 730.4,255.1 731.7,251.2 733.0,241.1 734.4,248.2 735.7,242.2 737.0,247.5 738.4,263.4 739.7,243.0 741.0,248.6 742.4,233.6 743.7,261.8 745.0,243.7 746.3,222.6 747.7,246.6 749.0,256.2 750.3,228.7 751.7,239.4 753.0,249.9 754.3,251.8 755.7,260.9 757.0,254.2 758.3,260.6 759.7,277.6 761.0,266.1 762.3,269.5 763.7,249.1 765.0,250.5 766.3,230.8 767.7,273.8 769.0,246.6 770.3,251.6 771.6,238.5 773.0,240.2 774.3,244.0 775.6,274.4 777.0,249.5 778.3,239.8 779.6,242.7 781.0,232.3 782.3,259.7 783.6,258.5 785.0,243.9 786.3,250.9 787.6,256.9 789.0,262.0 790.3,212.4 791.6,241.8 793.0,222.2 794.3,262.3 795.6,242.5 797.0,239.8 798.3,235.8 799.6,251.3 800.9,271.0 802.3,258.5 803.6,244.7 804.9,243.7 806.3,237.4 807.6,260.8 808.9,269.1 810.3,271.3 811.6,274.0 812.9,258.9 814.3,252.2 815.6,252.0 816.9,269.4 818.3,271.7 819.6,257.2 820.9,244.6 822.3,245.9 823.6,252.6 824.9,252.6 826.2,257.5 827.6,250.6 828.9,272.0 830.2,261.1 831.6,241.8 832.9,236.2 834.2,230.3 835.6,224.8 836.9,239.0 838.2,246.9 839.6,250.0 840.9,239.0 842.2,242.4 843.6,251.0 844.9,225.7 846.2,238.9 847.6,247.0 848.9,221.7 850.2,253.0 851.5,248.7 852.9,239.0 854.2,240.4 855.5,247.7 856.9,235.8 858.2,247.3 859.5,242.9 860.9,270.4 862.2,242.0 863.5,264.7 864.9,256.7 866.2,248.9 867.5,249.4 868.9,262.7 870.2,243.2 871.5,262.5 872.9,250.2 874.2,244.6 875.5,250.3 876.9,241.4 878.2,252.8 879.5,259.6 880.8,260.1 882.2,262.8 883.5,237.4 884.8,243.0 886.2,241.9 887.5,233.0 888.8,243.5 890.2,216.3 891.5,255.1 892.8,245.1 894.2,228.1 895.5,260.5 896.8,233.0 898.2,230.1 899.5,236.7 900.8,257.7 902.2,235.0 903.5,243.6 904.8,272.0 906.1,253.6 907.5,239.8 908.8,233.3 910.1,227.8 911.5,241.8 912.8,252.0 914.1,257.2 915.5,239.4 916.8,260.1 918.1,234.7 919.5,248.7 920.8,258.0 922.1,236.0 923.5,244.3 924.8,245.0 926.1,251.8 927.5,258.5 928.8,243.5 930.1,224.1 931.5,262.2 932.8,266.9 934.1,264.2 935.4,236.6 936.8,237.0 938.1,244.0 939.4,260.2 940.8,242.5 942.1,265.9 943.4,274.8 944.8,254.8 946.1,252.5 947.4,244.7 948.8,252.5 950.1,216.8 951.4,251.7 952.8,258.6 954.1,259.6 955.4,262.9 956.8,247.9 958.1,242.8 959.4,240.0 960.7,240.0 962.1,222.3 963.4,230.8 964.7,232.6 966.1,242.9 967.4,216.9 968.7,229.7 970.1,241.9 971.4,272.8 972.7,243.0 974.1,256.6 975.4,240.7 976.7,247.4 978.1,244.6 979.4,269.4 980.7,266.3 982.1,228.7 983.4,228.5 984.7,250.3 986.1,244.0 987.4,224.0 988.7,247.8 990.0,250.1 991.4,255.4 992.7,239.0 994.0,261.4 995.4,249.8 996.7,248.5 998.0,227.5 999.4,234.7 1000.7,242.3 1002.0,218.8 1003.4,238.8 1004.7,244.6 1006.0,244.4 1007.4,235.6 1008.7,255.1 1010.0,255.1 1011.4,245.3 1012.7,254.0 1014.0,274.2 1015.3,280.0 1016.7,264.7 1018.0,248.6 1019.3,243.7 1020.7,240.4 1022.0,251.8 1023.3,245.3 1024.7,267.0 1026.0,257.0 1027.3,252.8 1028.7,251.2 1030.0,256.6 1031.3,270.2 1032.7,241.1 1034.0,247.3 1035.3,235.7 1036.7,235.8 1038.0,236.2 1039.3,242.9" fill="none" stroke="#ff0000" stroke-width="2.1" stroke-linejoin="round" clip-path="url(#clipA)"/>
<rect x="625.0" y="428.0" width="101.0" height="6.4" fill="#0000ff"/>
<rect x="625.0" y="484.7" width="101.0" height="6.5" fill="#ff0000"/>
<text x="737.0" y="449.8" text-anchor="start" font-size="47">Anodal ctDCS</text>
<text x="737.0" y="506.3" text-anchor="start" font-size="47">Sham ctDCS</text>
<text x="167.5" y="75.3" text-anchor="end" font-size="47">0.1</text>
<text x="167.5" y="236.4" text-anchor="end" font-size="47">0.05</text>
<text x="167.5" y="397.5" text-anchor="end" font-size="47">0</text>
<text x="167.5" y="558.6" text-anchor="end" font-size="47">-0.05</text>
<text x="184.7" y="602.5" text-anchor="middle" font-size="47">1</text>
<text x="284.6" y="602.5" text-anchor="middle" font-size="47">76</text>
<text x="384.5" y="602.5" text-anchor="middle" font-size="47">151</text>
<text x="484.3" y="602.5" text-anchor="middle" font-size="47">226</text>
<text x="584.2" y="602.5" text-anchor="middle" font-size="47">301</text>
<text x="684.1" y="602.5" text-anchor="middle" font-size="47">376</text>
<text x="784.0" y="602.5" text-anchor="middle" font-size="47">451</text>
<text x="883.8" y="602.5" text-anchor="middle" font-size="47">526</text>
<text x="1038.3" y="602.5" text-anchor="middle" font-size="47">642</text>
<text x="646.7" y="662.0" text-anchor="middle" font-size="47">Number of strides</text>
<text x="0" y="0" transform="translate(38.5,301.5) rotate(-90)" text-anchor="middle" font-size="47">Step length symmetry</text>
<text x="650.8" y="36.2" text-anchor="middle" font-weight="bold" font-size="47">(a)</text>
<rect x="1301.5" y="440.4" width="345.5" height="6.2" fill="#e1e1e1"/>
<rect x="1301.5" y="344.5" width="345.5" height="6.2" fill="#e1e1e1"/>
<rect x="1301.5" y="248.7" width="345.5" height="6.2" fill="#e1e1e1"/>
<rect x="1301.5" y="152.9" width="345.5" height="6.2" fill="#e1e1e1"/>
<rect x="1301.5" y="57.1" width="345.5" height="6.2" fill="#e1e1e1"/>
<rect x="1295.1" y="56.9" width="6.5" height="485.9" fill="#222222"/>
<rect x="1298.0" y="440.5" width="9.0" height="6.0" fill="#222222"/>
<rect x="1298.0" y="344.6" width="9.0" height="6.0" fill="#222222"/>
<rect x="1298.0" y="248.8" width="9.0" height="6.0" fill="#222222"/>
<rect x="1298.0" y="153.0" width="9.0" height="6.0" fill="#222222"/>
<rect x="1298.0" y="57.2" width="9.0" height="6.0" fill="#222222"/>
<rect x="1380.2" y="168.9" width="82.6" height="370.4" fill="#0000ff" stroke="#000" stroke-width="6.0"/>
<rect x="1482.5" y="306.4" width="82.2" height="232.9" fill="#ff0000" stroke="#000" stroke-width="6.0"/>
<rect x="1418.2" y="75.5" width="6.5" height="186.0" fill="#000"/>
<rect x="1411.5" y="72.3" width="20.0" height="6.4" fill="#000"/>
<rect x="1411.5" y="258.3" width="20.0" height="6.4" fill="#000"/>
<rect x="1295.1" y="536.3" width="355.5" height="6.5" fill="#222222"/>
<rect x="1520.5" y="247.9" width="6.5" height="117.9" fill="#000"/>
<rect x="1513.8" y="244.7" width="20.0" height="6.4" fill="#000"/>
<rect x="1513.8" y="362.6" width="20.0" height="6.4" fill="#000"/>
<text x="1280.5" y="557.9" text-anchor="end" font-size="47">0</text>
<text x="1280.5" y="462.1" text-anchor="end" font-size="47">50</text>
<text x="1280.5" y="366.2" text-anchor="end" font-size="47">100</text>
<text x="1280.5" y="270.4" text-anchor="end" font-size="47">150</text>
<text x="1280.5" y="174.6" text-anchor="end" font-size="47">200</text>
<text x="1280.5" y="78.8" text-anchor="end" font-size="47">250</text>
<text x="0" y="0" transform="translate(1183.6,304.0) rotate(-90)" text-anchor="middle" font-size="47">Number of strides</text>
<text x="1473.3" y="39.3" text-anchor="middle" font-weight="bold" font-size="47">(b)</text>
<rect x="195.0" y="1174.4" width="338.8" height="6.2" fill="#e1e1e1"/>
<rect x="195.0" y="1126.5" width="338.8" height="6.2" fill="#e1e1e1"/>
<rect x="195.0" y="1078.6" width="338.8" height="6.2" fill="#e1e1e1"/>
<rect x="195.0" y="1030.8" width="338.8" height="6.2" fill="#e1e1e1"/>
<rect x="195.0" y="935.0" width="338.8" height="6.2" fill="#e1e1e1"/>
<rect x="195.0" y="887.2" width="338.8" height="6.2" fill="#e1e1e1"/>
<rect x="195.0" y="839.3" width="338.8" height="6.2" fill="#e1e1e1"/>
<rect x="195.0" y="791.4" width="338.8" height="6.2" fill="#e1e1e1"/>
<rect x="195.0" y="743.5" width="338.8" height="6.2" fill="#e1e1e1"/>
<rect x="189.0" y="983.0" width="344.8" height="6.0" fill="#222222"/>
<rect x="182.6" y="743.2" width="6.8" height="485.1" fill="#222222"/>
<rect x="182.6" y="1221.9" width="354.5" height="6.4" fill="#222222"/>
<rect x="186.0" y="1174.5" width="8.0" height="6.0" fill="#222222"/>
<rect x="186.0" y="1126.6" width="8.0" height="6.0" fill="#222222"/>
<rect x="186.0" y="1078.7" width="8.0" height="6.0" fill="#222222"/>
<rect x="186.0" y="1030.9" width="8.0" height="6.0" fill="#222222"/>
<rect x="186.0" y="983.0" width="8.0" height="6.0" fill="#222222"/>
<rect x="186.0" y="935.1" width="8.0" height="6.0" fill="#222222"/>
<rect x="186.0" y="887.3" width="8.0" height="6.0" fill="#222222"/>
<rect x="186.0" y="839.4" width="8.0" height="6.0" fill="#222222"/>
<rect x="186.0" y="791.5" width="8.0" height="6.0" fill="#222222"/>
<rect x="186.0" y="743.6" width="8.0" height="6.0" fill="#222222"/>
<rect x="267.1" y="986.0" width="82.4" height="72.3" fill="#0000ff" stroke="#000" stroke-width="6.0"/>
<rect x="370.2" y="918.5" width="82.4" height="67.5" fill="#ff0000" stroke="#000" stroke-width="6.0"/>
<rect x="304.9" y="981.2" width="6.5" height="153.5" fill="#000"/>
<rect x="298.2" y="978.0" width="20.0" height="6.4" fill="#000"/>
<rect x="298.2" y="1131.5" width="20.0" height="6.4" fill="#000"/>
<rect x="408.1" y="841.8" width="6.5" height="153.3" fill="#000"/>
<rect x="401.3" y="838.6" width="20.0" height="6.4" fill="#000"/>
<rect x="401.3" y="991.9" width="20.0" height="6.4" fill="#000"/>
<text x="167.5" y="1243.9" text-anchor="end" font-size="47">-0.05</text>
<text x="167.5" y="1196.1" text-anchor="end" font-size="47">-0.04</text>
<text x="167.5" y="1148.2" text-anchor="end" font-size="47">-0.03</text>
<text x="167.5" y="1100.3" text-anchor="end" font-size="47">-0.02</text>
<text x="167.5" y="1052.5" text-anchor="end" font-size="47">-0.01</text>
<text x="167.5" y="1004.6" text-anchor="end" font-size="47">0</text>
<text x="167.5" y="956.7" text-anchor="end" font-size="47">0.01</text>
<text x="167.5" y="908.9" text-anchor="end" font-size="47">0.02</text>
<text x="167.5" y="861.0" text-anchor="end" font-size="47">0.03</text>
<text x="167.5" y="813.1" text-anchor="end" font-size="47">0.04</text>
<text x="167.5" y="765.2" text-anchor="end" font-size="47">0.05</text>
<text x="0" y="0" transform="translate(38.5,989.5) rotate(-90)" text-anchor="middle" font-size="47">Step length symmetry</text>
<text x="359.6" y="726.0" text-anchor="middle" font-weight="bold" font-size="47">(c)</text>
<rect x="731.7" y="1174.2" width="336.9" height="6.2" fill="#e1e1e1"/>
<rect x="731.7" y="1126.3" width="336.9" height="6.2" fill="#e1e1e1"/>
<rect x="731.7" y="1078.4" width="336.9" height="6.2" fill="#e1e1e1"/>
<rect x="731.7" y="1030.6" width="336.9" height="6.2" fill="#e1e1e1"/>
<rect x="731.7" y="934.8" width="336.9" height="6.2" fill="#e1e1e1"/>
<rect x="731.7" y="887.0" width="336.9" height="6.2" fill="#e1e1e1"/>
<rect x="731.7" y="839.1" width="336.9" height="6.2" fill="#e1e1e1"/>
<rect x="731.7" y="791.2" width="336.9" height="6.2" fill="#e1e1e1"/>
<rect x="731.7" y="743.3" width="336.9" height="6.2" fill="#e1e1e1"/>
<rect x="725.7" y="982.8" width="342.9" height="6.0" fill="#222222"/>
<rect x="719.3" y="743.2" width="6.8" height="485.1" fill="#222222"/>
<rect x="719.3" y="1221.9" width="353.0" height="6.4" fill="#222222"/>
<rect x="722.7" y="1174.3" width="8.0" height="6.0" fill="#222222"/>
<rect x="722.7" y="1126.4" width="8.0" height="6.0" fill="#222222"/>
<rect x="722.7" y="1078.5" width="8.0" height="6.0" fill="#222222"/>
<rect x="722.7" y="1030.7" width="8.0" height="6.0" fill="#222222"/>
<rect x="722.7" y="982.8" width="8.0" height="6.0" fill="#222222"/>
<rect x="722.7" y="934.9" width="8.0" height="6.0" fill="#222222"/>
<rect x="722.7" y="887.1" width="8.0" height="6.0" fill="#222222"/>
<rect x="722.7" y="839.2" width="8.0" height="6.0" fill="#222222"/>
<rect x="722.7" y="791.3" width="8.0" height="6.0" fill="#222222"/>
<rect x="722.7" y="743.4" width="8.0" height="6.0" fill="#222222"/>
<rect x="804.1" y="899.5" width="81.6" height="86.3" fill="#0000ff" stroke="#000" stroke-width="6.0"/>
<rect x="905.6" y="813.4" width="82.5" height="172.4" fill="#ff0000" stroke="#000" stroke-width="6.0"/>
<rect x="841.2" y="841.9" width="6.5" height="115.4" fill="#000"/>
<rect x="834.5" y="838.7" width="20.0" height="6.4" fill="#000"/>
<rect x="834.5" y="954.1" width="20.0" height="6.4" fill="#000"/>
<rect x="943.8" y="755.6" width="6.5" height="115.2" fill="#000"/>
<rect x="937.0" y="752.4" width="20.0" height="6.4" fill="#000"/>
<rect x="937.0" y="867.6" width="20.0" height="6.4" fill="#000"/>
<rect x="828.1" y="1071.5" width="102" height="43.5" fill="#0000ff" stroke="#000" stroke-width="6"/>
<rect x="828.1" y="1129.6" width="102" height="42.7" fill="#ff0000" stroke="#000" stroke-width="6"/>
<text x="940.0" y="1112.6" text-anchor="start" font-size="47">Anodal ctDCS</text>
<text x="940.0" y="1168.5" text-anchor="start" font-size="47">Sham ctDCS</text>
<text x="897.4" y="726.0" text-anchor="middle" font-weight="bold" font-size="47">(d)</text>
<rect x="1308.3" y="1174.4" width="338.7" height="6.2" fill="#e1e1e1"/>
<rect x="1308.3" y="1126.5" width="338.7" height="6.2" fill="#e1e1e1"/>
<rect x="1308.3" y="1078.6" width="338.7" height="6.2" fill="#e1e1e1"/>
<rect x="1308.3" y="1030.8" width="338.7" height="6.2" fill="#e1e1e1"/>
<rect x="1308.3" y="935.0" width="338.7" height="6.2" fill="#e1e1e1"/>
<rect x="1308.3" y="887.2" width="338.7" height="6.2" fill="#e1e1e1"/>
<rect x="1308.3" y="839.3" width="338.7" height="6.2" fill="#e1e1e1"/>
<rect x="1308.3" y="791.4" width="338.7" height="6.2" fill="#e1e1e1"/>
<rect x="1308.3" y="743.5" width="338.7" height="6.2" fill="#e1e1e1"/>
<rect x="1302.3" y="983.0" width="344.7" height="6.0" fill="#222222"/>
<rect x="1295.9" y="743.2" width="6.8" height="485.1" fill="#222222"/>
<rect x="1295.9" y="1221.9" width="354.7" height="6.4" fill="#222222"/>
<rect x="1299.3" y="1174.5" width="8.0" height="6.0" fill="#222222"/>
<rect x="1299.3" y="1126.6" width="8.0" height="6.0" fill="#222222"/>
<rect x="1299.3" y="1078.7" width="8.0" height="6.0" fill="#222222"/>
<rect x="1299.3" y="1030.9" width="8.0" height="6.0" fill="#222222"/>
<rect x="1299.3" y="983.0" width="8.0" height="6.0" fill="#222222"/>
<rect x="1299.3" y="935.1" width="8.0" height="6.0" fill="#222222"/>
<rect x="1299.3" y="887.3" width="8.0" height="6.0" fill="#222222"/>
<rect x="1299.3" y="839.4" width="8.0" height="6.0" fill="#222222"/>
<rect x="1299.3" y="791.5" width="8.0" height="6.0" fill="#222222"/>
<rect x="1299.3" y="743.6" width="8.0" height="6.0" fill="#222222"/>
<rect x="1380.2" y="866.4" width="82.5" height="119.6" fill="#0000ff" stroke="#000" stroke-width="6.0"/>
<rect x="1482.6" y="798.3" width="82.2" height="187.7" fill="#ff0000" stroke="#000" stroke-width="6.0"/>
<rect x="1418.0" y="818.4" width="6.5" height="95.6" fill="#000"/>
<rect x="1411.2" y="815.2" width="20.0" height="6.4" fill="#000"/>
<rect x="1411.2" y="910.8" width="20.0" height="6.4" fill="#000"/>
<rect x="1520.2" y="751.0" width="6.5" height="95.5" fill="#000"/>
<rect x="1513.4" y="747.8" width="20.0" height="6.4" fill="#000"/>
<rect x="1513.4" y="843.3" width="20.0" height="6.4" fill="#000"/>
<text x="1472.2" y="726.0" text-anchor="middle" font-weight="bold" font-size="47">(e)</text>
</svg>
</body></html>
